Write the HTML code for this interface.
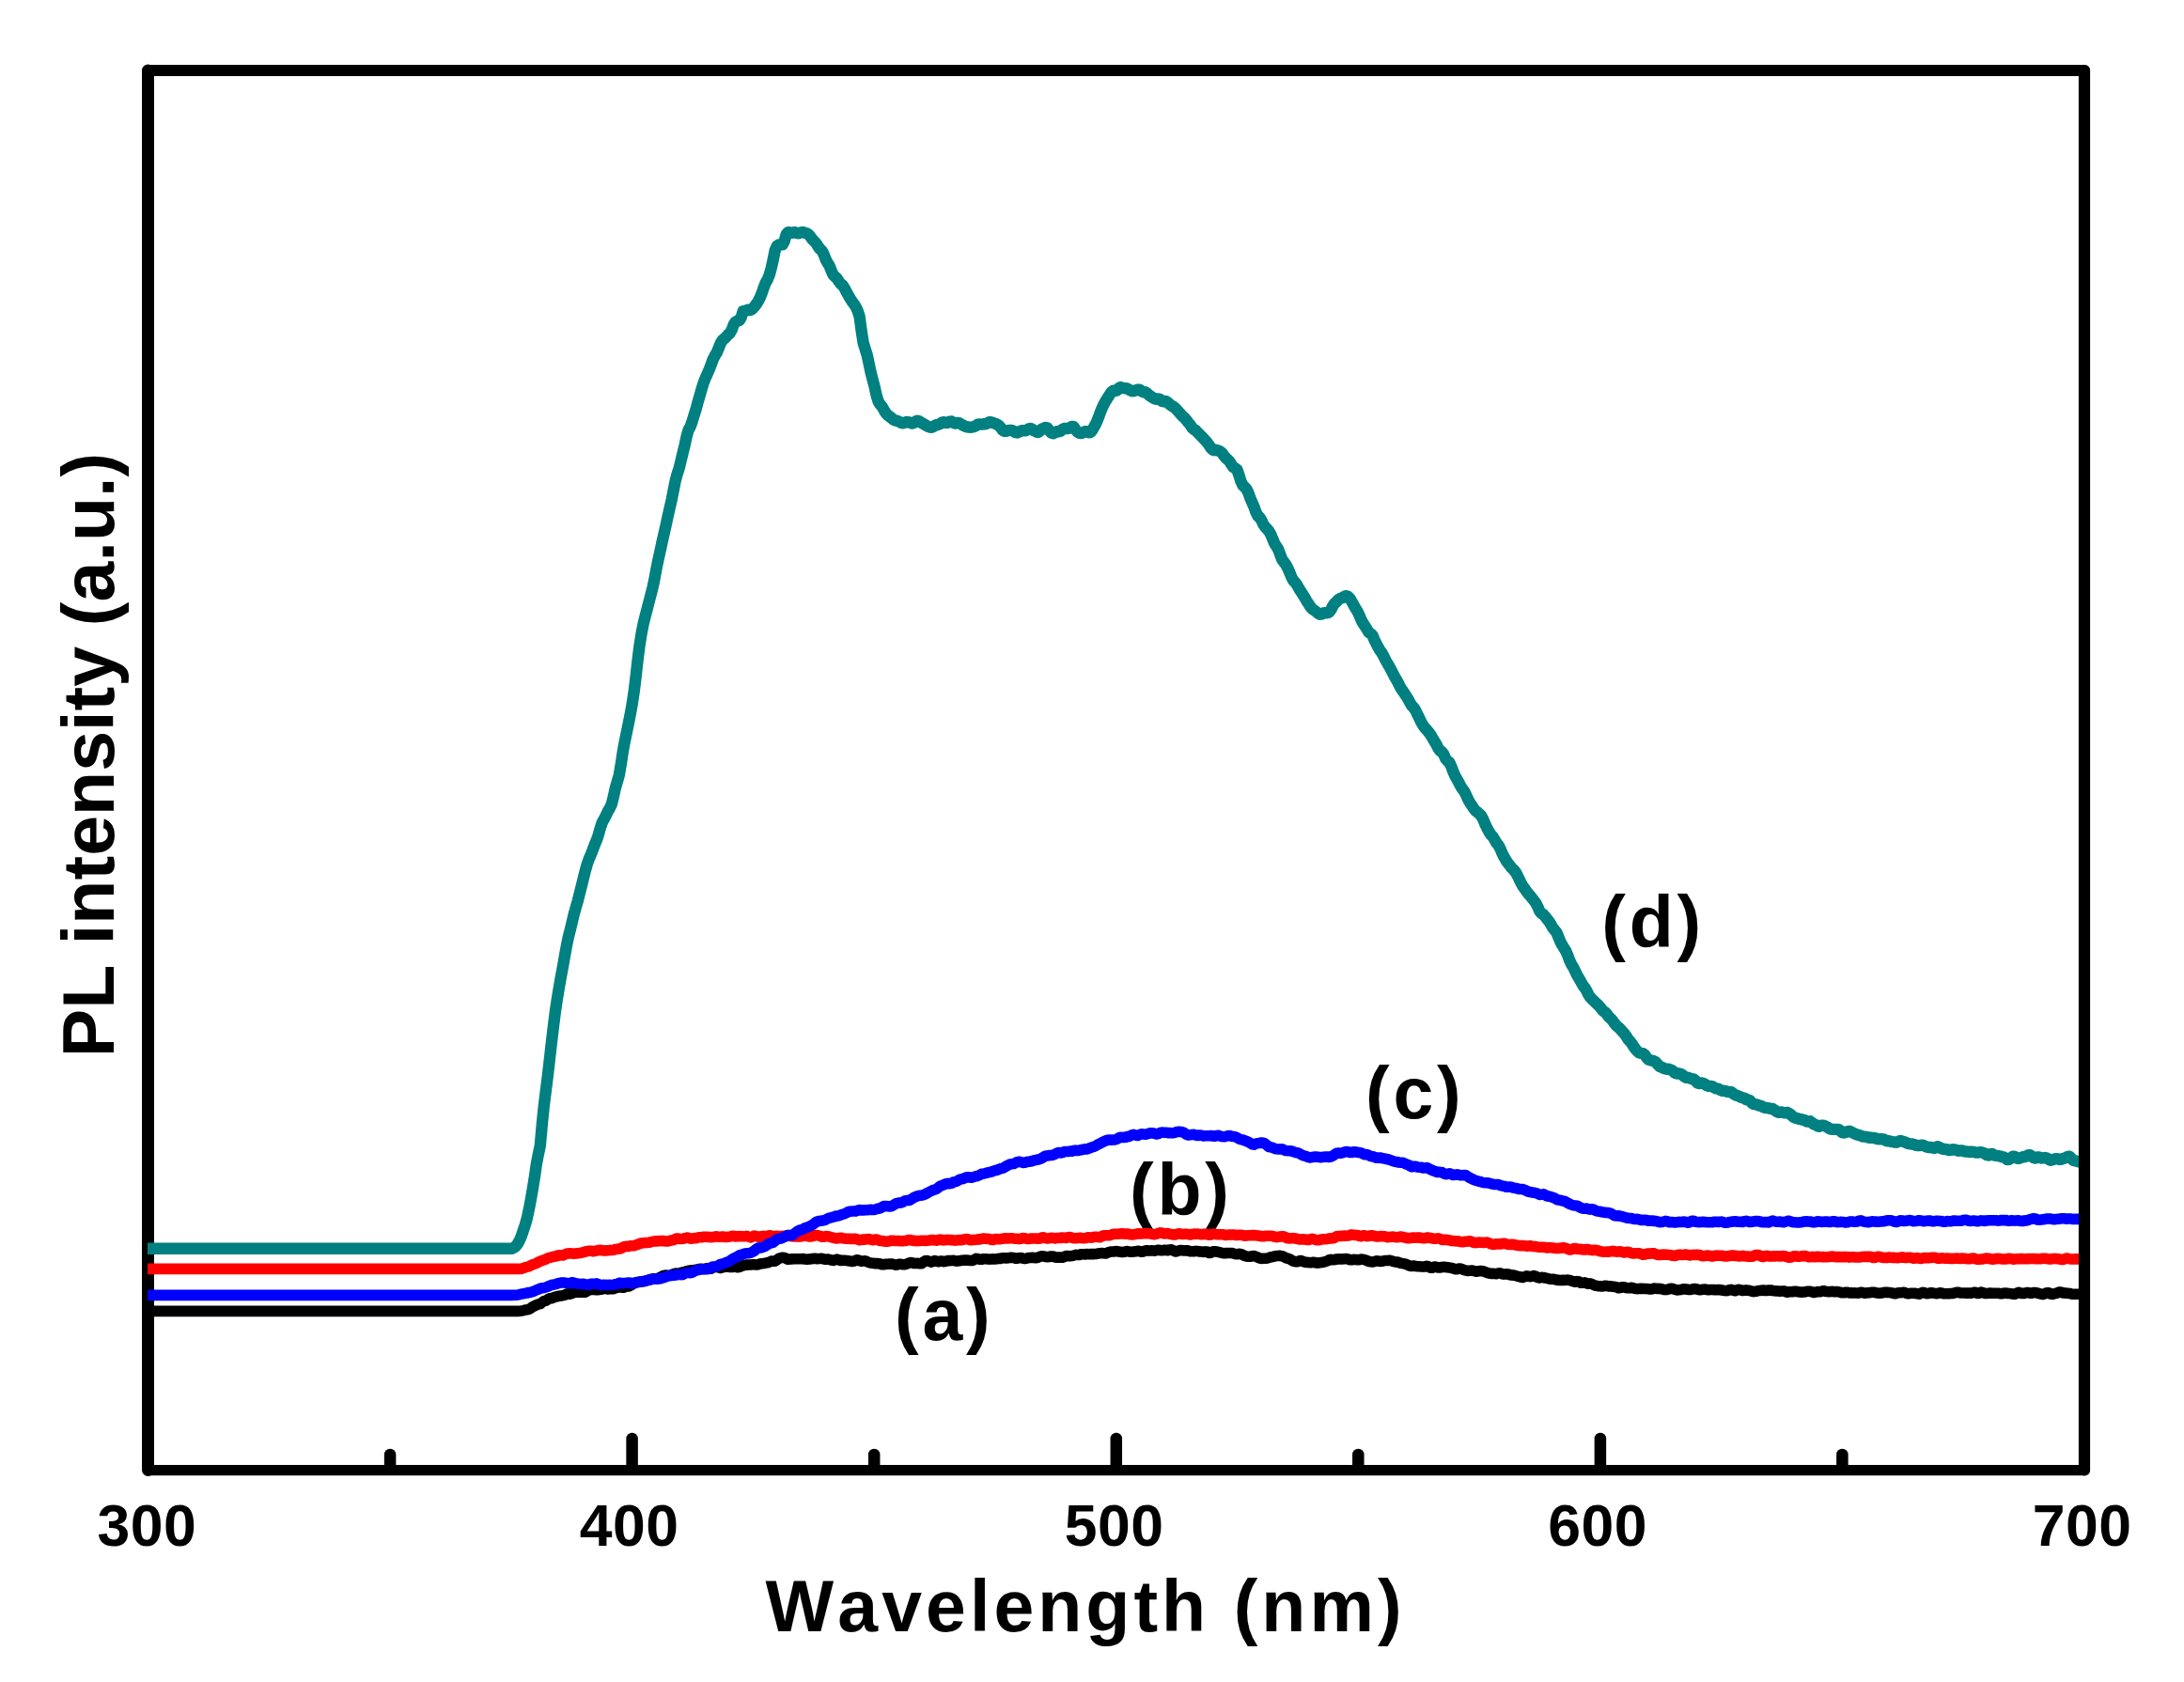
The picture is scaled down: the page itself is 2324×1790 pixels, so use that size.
<!DOCTYPE html>
<html lang="en">
<head>
<meta charset="utf-8">
<title>PL intensity vs Wavelength</title>
<style>
html,body{margin:0;padding:0;background:#fff;}
body{width:2324px;height:1790px;overflow:hidden;}
svg{display:block;}
text{font-family:"Liberation Sans",sans-serif;font-weight:bold;fill:#000;font-kerning:none;}
.tl{font-size:62.5px;letter-spacing:0.5px;}
.big{font-size:77px;}
</style>
</head>
<body>
<svg width="2324" height="1790" viewBox="0 0 2324 1790">
<rect x="0" y="0" width="2324" height="1790" fill="#fff"/>
<!-- frame -->
<g stroke="#000" stroke-linecap="round" fill="none">
<line x1="157.5" y1="75" x2="157.5" y2="1564.5" stroke-width="13"/>
<line x1="157.5" y1="75" x2="2218" y2="75" stroke-width="12.2"/>
<line x1="2218" y1="75" x2="2218" y2="1564.5" stroke-width="12.2"/>
<line x1="157.5" y1="1564.6" x2="2218" y2="1564.6" stroke-width="11.4"/>
</g>
<!-- ticks -->
<g stroke="#000" stroke-width="12.5" stroke-linecap="round">
<line x1="415.1" y1="1562" x2="415.1" y2="1548"/>
<line x1="672.6" y1="1562" x2="672.6" y2="1531"/>
<line x1="930.2" y1="1562" x2="930.2" y2="1548"/>
<line x1="1187.8" y1="1562" x2="1187.8" y2="1531"/>
<line x1="1445.3" y1="1562" x2="1445.3" y2="1548"/>
<line x1="1702.9" y1="1562" x2="1702.9" y2="1531"/>
<line x1="1960.4" y1="1562" x2="1960.4" y2="1548"/>
</g>
<!-- curve labels -->
<g class="big" letter-spacing="3.8">
<text x="952" y="1426.4">(a)</text>
<text x="1202" y="1293">(b)</text>
<text x="1453" y="1189.6">(c)</text>
<text x="1704.3" y="1008.4">(d)</text>
</g>
<!-- curves -->
<clipPath id="plotclip"><rect x="157" y="60" width="2055" height="1520"/></clipPath>
<g fill="none" stroke-width="11.6" stroke-linejoin="round" stroke-linecap="butt" clip-path="url(#plotclip)">
<polyline stroke="#000000" points="152.0,1395.4 157.0,1395.4 159.0,1395.4 161.0,1395.4 163.0,1395.4 165.0,1395.4 167.0,1395.4 169.0,1395.4 171.0,1395.4 173.0,1395.4 175.0,1395.4 177.0,1395.4 179.0,1395.4 181.0,1395.4 183.0,1395.4 185.0,1395.4 187.0,1395.4 189.0,1395.4 191.0,1395.4 193.0,1395.4 195.0,1395.4 197.0,1395.4 199.0,1395.4 201.0,1395.4 203.0,1395.4 205.0,1395.4 207.0,1395.4 209.0,1395.4 211.0,1395.4 213.0,1395.4 215.0,1395.4 217.0,1395.4 219.0,1395.4 221.0,1395.4 223.0,1395.4 225.0,1395.4 227.0,1395.4 229.0,1395.4 231.0,1395.4 233.0,1395.4 235.0,1395.4 237.0,1395.4 239.0,1395.4 241.0,1395.4 243.0,1395.4 245.0,1395.4 247.0,1395.4 249.0,1395.4 251.0,1395.4 253.0,1395.4 255.0,1395.4 257.0,1395.4 259.0,1395.4 260.9,1395.4 262.9,1395.4 264.9,1395.4 266.9,1395.4 268.9,1395.4 270.9,1395.4 272.9,1395.4 274.9,1395.4 276.9,1395.4 278.9,1395.4 280.9,1395.4 282.9,1395.4 284.9,1395.4 286.9,1395.4 288.9,1395.4 290.9,1395.4 292.9,1395.4 294.9,1395.4 296.9,1395.4 298.9,1395.4 300.9,1395.4 302.9,1395.4 304.9,1395.4 306.9,1395.4 308.9,1395.4 310.9,1395.4 312.9,1395.4 314.9,1395.4 316.9,1395.4 318.9,1395.4 320.9,1395.4 322.9,1395.4 324.9,1395.4 326.9,1395.4 328.9,1395.4 330.9,1395.4 332.9,1395.4 334.9,1395.4 336.9,1395.4 338.9,1395.4 340.9,1395.4 342.9,1395.4 344.9,1395.4 346.9,1395.4 348.9,1395.4 350.9,1395.4 352.9,1395.4 354.9,1395.4 356.9,1395.4 358.9,1395.4 360.9,1395.4 362.9,1395.4 364.9,1395.4 366.9,1395.4 368.9,1395.4 370.9,1395.4 372.9,1395.4 374.9,1395.4 376.9,1395.4 378.9,1395.4 380.9,1395.4 382.9,1395.4 384.9,1395.4 386.9,1395.4 388.9,1395.4 390.9,1395.4 392.9,1395.4 394.9,1395.4 396.9,1395.4 398.9,1395.4 400.9,1395.4 402.9,1395.4 404.9,1395.4 406.9,1395.4 408.9,1395.4 410.9,1395.4 412.9,1395.4 414.9,1395.4 416.9,1395.4 418.9,1395.4 420.9,1395.4 422.9,1395.4 424.9,1395.4 426.9,1395.4 428.9,1395.4 430.9,1395.4 432.9,1395.4 434.9,1395.4 436.9,1395.4 438.9,1395.4 440.9,1395.4 442.9,1395.4 444.9,1395.4 446.9,1395.4 448.9,1395.4 450.9,1395.4 452.9,1395.4 454.9,1395.4 456.9,1395.4 458.9,1395.4 460.9,1395.4 462.9,1395.4 464.9,1395.4 466.8,1395.4 468.8,1395.4 470.8,1395.4 472.8,1395.4 474.8,1395.4 476.8,1395.4 478.8,1395.4 480.8,1395.4 482.8,1395.4 484.8,1395.4 486.8,1395.4 488.8,1395.4 490.8,1395.4 492.8,1395.4 494.8,1395.4 496.8,1395.4 498.8,1395.4 500.8,1395.4 502.8,1395.4 504.8,1395.4 506.8,1395.4 508.8,1395.4 510.8,1395.4 512.8,1395.4 514.8,1395.4 516.8,1395.4 518.8,1395.4 520.8,1395.4 522.8,1395.4 524.8,1395.4 526.8,1395.4 528.8,1395.4 530.8,1395.4 532.8,1395.4 534.8,1395.4 536.8,1395.4 538.8,1395.4 540.8,1395.4 542.8,1395.4 544.8,1395.4 546.8,1395.4 548.8,1395.4 550.8,1395.4 552.8,1395.2 554.8,1395.0 556.8,1394.6 558.8,1394.1 560.8,1393.8 562.8,1393.4 564.8,1392.2 566.8,1390.7 568.8,1389.7 570.8,1388.7 572.8,1388.0 574.8,1387.6 576.8,1386.0 578.8,1384.7 580.8,1384.2 582.8,1383.0 584.8,1381.8 586.8,1381.7 588.8,1381.0 590.8,1380.1 592.8,1379.7 594.8,1379.3 596.8,1379.0 598.8,1378.7 600.8,1378.2 602.8,1377.2 604.8,1376.8 606.8,1377.2 608.8,1376.4 610.8,1375.5 612.8,1375.2 614.8,1375.1 616.8,1375.1 618.8,1375.0 620.8,1375.2 622.8,1375.1 624.8,1374.0 626.8,1372.9 628.8,1372.6 630.8,1372.4 632.8,1372.4 634.8,1372.7 636.8,1372.6 638.8,1372.2 640.8,1371.9 642.8,1371.3 644.8,1371.4 646.8,1372.0 648.8,1371.8 650.8,1371.7 652.8,1371.6 654.8,1370.7 656.8,1370.3 658.8,1369.8 660.8,1369.5 662.8,1370.3 664.8,1369.8 666.8,1368.9 668.8,1369.0 670.8,1368.2 672.7,1366.9 674.7,1365.9 676.7,1365.0 678.7,1364.4 680.7,1364.2 682.7,1363.8 684.7,1363.5 686.7,1363.3 688.7,1362.7 690.7,1362.0 692.7,1361.3 694.7,1360.7 696.7,1360.8 698.7,1360.9 700.7,1360.3 702.7,1359.3 704.7,1358.1 706.7,1357.2 708.7,1357.1 710.7,1357.4 712.7,1357.2 714.7,1356.7 716.7,1355.8 718.7,1355.1 720.7,1355.2 722.7,1355.0 724.7,1354.5 726.7,1353.9 728.7,1353.5 730.7,1352.8 732.7,1352.2 734.7,1352.0 736.7,1351.8 738.7,1351.6 740.7,1351.3 742.7,1350.8 744.7,1350.4 746.7,1350.4 748.7,1350.5 750.7,1350.2 752.7,1349.7 754.7,1350.1 756.7,1350.2 758.7,1348.9 760.7,1348.2 762.7,1348.4 764.7,1348.9 766.7,1349.4 768.7,1348.8 770.7,1348.3 772.7,1348.3 774.7,1348.3 776.7,1348.4 778.7,1348.5 780.7,1348.2 782.7,1348.2 784.7,1348.8 786.7,1348.4 788.7,1347.5 790.7,1346.9 792.7,1346.3 794.7,1346.1 796.7,1346.0 798.7,1346.0 800.7,1345.8 802.7,1345.7 804.7,1345.9 806.7,1345.7 808.7,1345.1 810.7,1344.8 812.7,1344.5 814.7,1344.1 816.7,1343.8 818.7,1343.1 820.7,1342.1 822.7,1342.0 824.7,1342.1 826.7,1340.8 828.7,1339.4 830.7,1338.6 832.7,1338.2 834.7,1338.4 836.7,1339.5 838.7,1340.3 840.7,1340.0 842.7,1339.9 844.7,1339.8 846.7,1339.7 848.7,1339.7 850.7,1339.8 852.7,1339.7 854.7,1339.5 856.7,1340.1 858.7,1340.3 860.7,1340.0 862.7,1339.9 864.7,1339.5 866.7,1339.3 868.7,1339.6 870.7,1339.6 872.7,1339.4 874.7,1339.4 876.6,1339.9 878.6,1340.2 880.6,1340.0 882.6,1340.4 884.6,1341.0 886.6,1341.4 888.6,1340.8 890.6,1340.1 892.6,1340.9 894.6,1341.5 896.6,1341.2 898.6,1341.2 900.6,1341.4 902.6,1341.7 904.6,1342.1 906.6,1342.4 908.6,1342.3 910.6,1341.1 912.6,1340.7 914.6,1341.7 916.6,1342.3 918.6,1341.9 920.6,1341.7 922.6,1342.6 924.6,1343.6 926.6,1344.0 928.6,1344.3 930.6,1344.6 932.6,1344.6 934.6,1344.6 936.6,1345.0 938.6,1345.8 940.6,1345.7 942.6,1345.3 944.6,1345.2 946.6,1345.1 948.6,1345.0 950.6,1345.4 952.6,1346.1 954.6,1346.0 956.6,1345.3 958.6,1345.2 960.6,1345.8 962.6,1345.8 964.6,1345.2 966.6,1344.4 968.6,1343.6 970.6,1343.7 972.6,1344.5 974.6,1344.5 976.6,1344.4 978.6,1344.8 980.6,1344.7 982.6,1343.1 984.6,1341.7 986.6,1341.5 988.6,1342.4 990.6,1343.1 992.6,1342.5 994.6,1341.6 996.6,1342.2 998.6,1342.8 1000.6,1342.1 1002.6,1342.0 1004.6,1342.6 1006.6,1342.2 1008.6,1341.6 1010.6,1341.6 1012.6,1341.5 1014.6,1341.4 1016.6,1341.9 1018.6,1342.1 1020.6,1341.7 1022.6,1341.4 1024.6,1341.3 1026.6,1341.1 1028.6,1341.1 1030.6,1341.3 1032.6,1341.5 1034.6,1341.5 1036.6,1340.6 1038.6,1339.4 1040.6,1339.6 1042.6,1340.3 1044.6,1340.2 1046.6,1339.8 1048.6,1339.8 1050.6,1339.9 1052.6,1340.1 1054.6,1340.0 1056.6,1339.9 1058.6,1340.0 1060.6,1339.8 1062.6,1339.4 1064.6,1339.4 1066.6,1338.8 1068.6,1338.7 1070.6,1339.0 1072.6,1338.7 1074.6,1338.4 1076.6,1338.4 1078.6,1338.5 1080.6,1339.1 1082.5,1339.2 1084.5,1338.7 1086.5,1338.6 1088.5,1339.1 1090.5,1339.5 1092.5,1339.1 1094.5,1338.5 1096.5,1338.5 1098.5,1338.3 1100.5,1338.5 1102.5,1338.8 1104.5,1338.2 1106.5,1337.3 1108.5,1336.7 1110.5,1336.9 1112.5,1337.5 1114.5,1337.6 1116.5,1337.5 1118.5,1337.0 1120.5,1337.0 1122.5,1337.8 1124.5,1338.2 1126.5,1338.0 1128.5,1338.1 1130.5,1338.2 1132.5,1337.5 1134.5,1336.6 1136.5,1336.6 1138.5,1336.7 1140.5,1336.5 1142.5,1336.1 1144.5,1335.4 1146.5,1335.5 1148.5,1335.5 1150.5,1334.7 1152.5,1334.7 1154.5,1334.9 1156.5,1334.6 1158.5,1334.7 1160.5,1334.6 1162.5,1334.5 1164.5,1334.6 1166.5,1334.4 1168.5,1334.1 1170.5,1333.8 1172.5,1333.6 1174.5,1333.8 1176.5,1334.0 1178.5,1333.2 1180.5,1332.4 1182.5,1332.0 1184.5,1332.0 1186.5,1331.7 1188.5,1331.6 1190.5,1332.0 1192.5,1332.2 1194.5,1332.5 1196.5,1332.3 1198.5,1331.6 1200.5,1331.7 1202.5,1332.3 1204.5,1332.2 1206.5,1332.0 1208.5,1331.8 1210.5,1331.3 1212.5,1331.5 1214.5,1332.2 1216.5,1331.9 1218.5,1331.0 1220.5,1330.8 1222.5,1331.1 1224.5,1330.9 1226.5,1330.9 1228.5,1331.1 1230.5,1330.6 1232.5,1330.2 1234.5,1330.7 1236.5,1330.8 1238.5,1330.3 1240.5,1330.4 1242.5,1330.7 1244.5,1330.0 1246.5,1329.8 1248.5,1330.9 1250.5,1331.9 1252.5,1331.7 1254.5,1330.9 1256.5,1330.5 1258.5,1330.7 1260.5,1331.0 1262.5,1330.8 1264.5,1331.1 1266.5,1331.7 1268.5,1331.8 1270.5,1331.8 1272.5,1331.4 1274.5,1331.6 1276.5,1331.9 1278.5,1332.0 1280.5,1332.4 1282.5,1331.9 1284.5,1332.1 1286.5,1333.4 1288.4,1333.2 1290.4,1332.0 1292.4,1331.7 1294.4,1332.0 1296.4,1332.4 1298.4,1332.9 1300.4,1333.4 1302.4,1333.8 1304.4,1333.6 1306.4,1333.5 1308.4,1333.5 1310.4,1333.5 1312.4,1333.9 1314.4,1334.6 1316.4,1334.8 1318.4,1334.4 1320.4,1334.5 1322.4,1335.5 1324.4,1336.4 1326.4,1337.0 1328.4,1337.3 1330.4,1337.2 1332.4,1336.8 1334.4,1336.6 1336.4,1337.2 1338.4,1338.1 1340.4,1339.0 1342.4,1339.4 1344.4,1339.3 1346.4,1339.3 1348.4,1339.1 1350.4,1338.4 1352.4,1337.8 1354.4,1337.5 1356.4,1336.9 1358.4,1336.6 1360.4,1336.4 1362.4,1336.4 1364.4,1336.7 1366.4,1337.6 1368.4,1338.8 1370.4,1339.2 1372.4,1339.9 1374.4,1341.2 1376.4,1342.1 1378.4,1342.6 1380.4,1342.7 1382.4,1342.0 1384.4,1341.5 1386.4,1342.4 1388.4,1343.3 1390.4,1343.4 1392.4,1343.5 1394.4,1343.7 1396.4,1343.4 1398.4,1343.3 1400.4,1343.9 1402.4,1344.1 1404.4,1343.8 1406.4,1343.6 1408.4,1343.1 1410.4,1342.6 1412.4,1341.9 1414.4,1340.8 1416.4,1340.4 1418.4,1340.8 1420.4,1340.5 1422.4,1340.0 1424.4,1339.9 1426.4,1340.0 1428.4,1339.9 1430.4,1339.8 1432.4,1339.6 1434.4,1339.9 1436.4,1340.8 1438.4,1340.8 1440.4,1340.4 1442.4,1340.5 1444.4,1340.6 1446.4,1340.6 1448.4,1340.1 1450.4,1340.2 1452.4,1340.8 1454.4,1341.5 1456.4,1342.3 1458.4,1342.7 1460.4,1342.9 1462.4,1342.6 1464.4,1341.9 1466.4,1342.0 1468.4,1342.4 1470.4,1342.3 1472.4,1341.8 1474.4,1341.6 1476.4,1341.4 1478.4,1341.2 1480.4,1341.6 1482.4,1342.4 1484.4,1342.9 1486.4,1343.0 1488.4,1343.5 1490.4,1344.2 1492.4,1344.6 1494.3,1344.9 1496.3,1345.4 1498.3,1346.4 1500.3,1347.3 1502.3,1347.4 1504.3,1347.1 1506.3,1347.4 1508.3,1347.7 1510.3,1347.7 1512.3,1347.9 1514.3,1348.1 1516.3,1347.9 1518.3,1347.3 1520.3,1347.8 1522.3,1349.3 1524.3,1349.2 1526.3,1348.1 1528.3,1348.3 1530.3,1348.9 1532.3,1348.9 1534.3,1348.6 1536.3,1348.3 1538.3,1348.5 1540.3,1348.8 1542.3,1349.1 1544.3,1349.3 1546.3,1349.8 1548.3,1350.6 1550.3,1350.7 1552.3,1350.1 1554.3,1350.1 1556.3,1350.9 1558.3,1351.7 1560.3,1352.2 1562.3,1352.4 1564.3,1352.3 1566.3,1352.1 1568.3,1352.4 1570.3,1353.2 1572.3,1353.0 1574.3,1352.6 1576.3,1352.6 1578.3,1352.7 1580.3,1353.6 1582.3,1354.4 1584.3,1355.0 1586.3,1355.4 1588.3,1355.3 1590.3,1355.5 1592.3,1355.6 1594.3,1355.0 1596.3,1354.9 1598.3,1355.7 1600.3,1356.1 1602.3,1355.9 1604.3,1356.0 1606.3,1356.5 1608.3,1357.0 1610.3,1357.1 1612.3,1357.4 1614.3,1358.1 1616.3,1358.5 1618.3,1359.1 1620.3,1359.5 1622.3,1358.6 1624.3,1357.9 1626.3,1358.2 1628.3,1358.6 1630.3,1358.2 1632.3,1357.6 1634.3,1358.3 1636.3,1359.6 1638.3,1359.9 1640.3,1359.4 1642.3,1359.5 1644.3,1360.0 1646.3,1360.4 1648.3,1360.9 1650.3,1361.2 1652.3,1361.2 1654.3,1361.5 1656.3,1362.1 1658.3,1362.4 1660.3,1362.5 1662.3,1362.4 1664.3,1362.4 1666.3,1362.2 1668.3,1362.1 1670.3,1362.5 1672.3,1363.1 1674.3,1363.8 1676.3,1364.2 1678.3,1363.6 1680.3,1364.0 1682.3,1365.3 1684.3,1365.3 1686.3,1364.9 1688.3,1365.8 1690.3,1366.2 1692.3,1365.9 1694.3,1366.6 1696.3,1367.6 1698.2,1368.3 1700.2,1368.6 1702.2,1368.7 1704.2,1368.9 1706.2,1368.7 1708.2,1368.3 1710.2,1368.6 1712.2,1368.9 1714.2,1368.9 1716.2,1369.3 1718.2,1369.4 1720.2,1369.7 1722.2,1370.6 1724.2,1370.5 1726.2,1369.7 1728.2,1369.8 1730.2,1370.4 1732.2,1370.7 1734.2,1370.7 1736.2,1370.3 1738.2,1370.9 1740.2,1371.4 1742.2,1371.6 1744.2,1371.5 1746.2,1371.2 1748.2,1371.4 1750.2,1371.5 1752.2,1371.5 1754.2,1371.7 1756.2,1372.0 1758.2,1371.7 1760.2,1371.1 1762.2,1371.2 1764.2,1371.5 1766.2,1371.4 1768.2,1371.7 1770.2,1372.4 1772.2,1372.6 1774.2,1372.4 1776.2,1371.7 1778.2,1371.3 1780.2,1371.6 1782.2,1372.2 1784.2,1372.9 1786.2,1372.8 1788.2,1372.5 1790.2,1372.1 1792.2,1371.8 1794.2,1372.0 1796.2,1372.4 1798.2,1372.5 1800.2,1372.1 1802.2,1371.6 1804.2,1371.5 1806.2,1372.1 1808.2,1372.6 1810.2,1372.6 1812.2,1372.3 1814.2,1372.1 1816.2,1372.4 1818.2,1372.7 1820.2,1372.5 1822.2,1372.5 1824.2,1372.6 1826.2,1372.8 1828.2,1372.6 1830.2,1372.6 1832.2,1373.0 1834.2,1373.4 1836.2,1373.6 1838.2,1373.5 1840.2,1372.8 1842.2,1372.4 1844.2,1373.2 1846.2,1373.8 1848.2,1372.8 1850.2,1372.2 1852.2,1372.8 1854.2,1373.5 1856.2,1373.3 1858.2,1372.9 1860.2,1373.2 1862.2,1373.7 1864.2,1374.2 1866.2,1374.6 1868.2,1374.3 1870.2,1373.8 1872.2,1373.6 1874.2,1373.2 1876.2,1373.0 1878.2,1373.5 1880.2,1373.5 1882.2,1373.0 1884.2,1373.0 1886.2,1373.5 1888.2,1373.7 1890.2,1373.9 1892.2,1374.0 1894.2,1374.3 1896.2,1374.1 1898.2,1373.9 1900.2,1374.8 1902.2,1375.2 1904.1,1374.7 1906.1,1374.7 1908.1,1374.6 1910.1,1374.2 1912.1,1374.5 1914.1,1374.9 1916.1,1375.1 1918.1,1375.1 1920.1,1374.9 1922.1,1374.6 1924.1,1374.3 1926.1,1374.3 1928.1,1374.9 1930.1,1375.5 1932.1,1375.1 1934.1,1374.6 1936.1,1374.8 1938.1,1374.3 1940.1,1373.7 1942.1,1374.2 1944.1,1374.6 1946.1,1374.8 1948.1,1374.5 1950.1,1374.4 1952.1,1374.7 1954.1,1374.5 1956.1,1374.7 1958.1,1375.3 1960.1,1375.7 1962.1,1375.7 1964.1,1375.3 1966.1,1375.4 1968.1,1375.9 1970.1,1375.9 1972.1,1376.0 1974.1,1375.9 1976.1,1376.1 1978.1,1376.0 1980.1,1375.3 1982.1,1375.6 1984.1,1376.1 1986.1,1376.0 1988.1,1375.7 1990.1,1375.6 1992.1,1375.3 1994.1,1375.3 1996.1,1375.7 1998.1,1376.0 2000.1,1376.3 2002.1,1376.1 2004.1,1375.5 2006.1,1375.4 2008.1,1375.4 2010.1,1375.5 2012.1,1375.7 2014.1,1376.1 2016.1,1376.7 2018.1,1376.4 2020.1,1375.7 2022.1,1375.7 2024.1,1375.5 2026.1,1375.4 2028.1,1376.2 2030.1,1376.8 2032.1,1376.5 2034.1,1376.2 2036.1,1376.3 2038.1,1376.4 2040.1,1376.8 2042.1,1377.1 2044.1,1376.2 2046.1,1375.4 2048.1,1375.8 2050.1,1376.6 2052.1,1376.5 2054.1,1375.9 2056.1,1375.9 2058.1,1376.3 2060.1,1376.6 2062.1,1376.5 2064.1,1375.9 2066.1,1376.0 2068.1,1376.6 2070.1,1376.7 2072.1,1376.7 2074.1,1376.8 2076.1,1376.6 2078.1,1376.4 2080.1,1375.9 2082.1,1375.3 2084.1,1375.4 2086.1,1376.0 2088.1,1376.0 2090.1,1376.0 2092.1,1376.1 2094.1,1376.0 2096.1,1376.1 2098.1,1376.1 2100.1,1375.4 2102.1,1375.4 2104.1,1376.5 2106.1,1376.2 2108.1,1375.1 2110.0,1375.6 2112.0,1376.4 2114.0,1376.5 2116.0,1376.3 2118.0,1376.1 2120.0,1376.2 2122.0,1376.3 2124.0,1376.2 2126.0,1376.3 2128.0,1376.6 2130.0,1376.7 2132.0,1376.3 2134.0,1376.1 2136.0,1376.4 2138.0,1376.5 2140.0,1376.7 2142.0,1377.1 2144.0,1377.1 2146.0,1376.2 2148.0,1375.4 2150.0,1376.0 2152.0,1376.5 2154.0,1376.4 2156.0,1375.8 2158.0,1375.5 2160.0,1376.1 2162.0,1376.1 2164.0,1375.5 2166.0,1375.6 2168.0,1376.0 2170.0,1376.7 2172.0,1377.2 2174.0,1377.4 2176.0,1376.8 2178.0,1375.7 2180.0,1375.8 2182.0,1377.0 2184.0,1377.4 2186.0,1376.8 2188.0,1376.4 2190.0,1375.5 2192.0,1375.0 2194.0,1375.5 2196.0,1376.0 2198.0,1376.1 2200.0,1376.2 2202.0,1376.4 2204.0,1377.0 2206.0,1377.3 2208.0,1377.3 2210.0,1377.3 2212.0,1377.3 2217.0,1377.3"/>
<polyline stroke="#ff0000" points="152.0,1350.4 157.0,1350.4 159.0,1350.4 161.0,1350.4 163.0,1350.4 165.0,1350.4 167.0,1350.4 169.0,1350.4 171.0,1350.4 173.0,1350.4 175.0,1350.4 177.0,1350.4 179.0,1350.4 181.0,1350.4 183.0,1350.4 185.0,1350.4 187.0,1350.4 189.0,1350.4 191.0,1350.4 193.0,1350.4 195.0,1350.4 197.0,1350.4 199.0,1350.4 201.0,1350.4 203.0,1350.4 205.0,1350.4 207.0,1350.4 209.0,1350.4 211.0,1350.4 213.0,1350.4 215.0,1350.4 217.0,1350.4 219.0,1350.4 221.0,1350.4 223.0,1350.4 225.0,1350.4 227.0,1350.4 229.0,1350.4 231.0,1350.4 233.0,1350.4 235.0,1350.4 237.0,1350.4 239.0,1350.4 241.0,1350.4 243.0,1350.4 245.0,1350.4 247.0,1350.4 249.0,1350.4 251.0,1350.4 253.0,1350.4 255.0,1350.4 257.0,1350.4 259.0,1350.4 260.9,1350.4 262.9,1350.4 264.9,1350.4 266.9,1350.4 268.9,1350.4 270.9,1350.4 272.9,1350.4 274.9,1350.4 276.9,1350.4 278.9,1350.4 280.9,1350.4 282.9,1350.4 284.9,1350.4 286.9,1350.4 288.9,1350.4 290.9,1350.4 292.9,1350.4 294.9,1350.4 296.9,1350.4 298.9,1350.4 300.9,1350.4 302.9,1350.4 304.9,1350.4 306.9,1350.4 308.9,1350.4 310.9,1350.4 312.9,1350.4 314.9,1350.4 316.9,1350.4 318.9,1350.4 320.9,1350.4 322.9,1350.4 324.9,1350.4 326.9,1350.4 328.9,1350.4 330.9,1350.4 332.9,1350.4 334.9,1350.4 336.9,1350.4 338.9,1350.4 340.9,1350.4 342.9,1350.4 344.9,1350.4 346.9,1350.4 348.9,1350.4 350.9,1350.4 352.9,1350.4 354.9,1350.4 356.9,1350.4 358.9,1350.4 360.9,1350.4 362.9,1350.4 364.9,1350.4 366.9,1350.4 368.9,1350.4 370.9,1350.4 372.9,1350.4 374.9,1350.4 376.9,1350.4 378.9,1350.4 380.9,1350.4 382.9,1350.4 384.9,1350.4 386.9,1350.4 388.9,1350.4 390.9,1350.4 392.9,1350.4 394.9,1350.4 396.9,1350.4 398.9,1350.4 400.9,1350.4 402.9,1350.4 404.9,1350.4 406.9,1350.4 408.9,1350.4 410.9,1350.4 412.9,1350.4 414.9,1350.4 416.9,1350.4 418.9,1350.4 420.9,1350.4 422.9,1350.4 424.9,1350.4 426.9,1350.4 428.9,1350.4 430.9,1350.4 432.9,1350.4 434.9,1350.4 436.9,1350.4 438.9,1350.4 440.9,1350.4 442.9,1350.4 444.9,1350.4 446.9,1350.4 448.9,1350.4 450.9,1350.4 452.9,1350.4 454.9,1350.4 456.9,1350.4 458.9,1350.4 460.9,1350.4 462.9,1350.4 464.9,1350.4 466.8,1350.4 468.8,1350.4 470.8,1350.4 472.8,1350.4 474.8,1350.4 476.8,1350.4 478.8,1350.4 480.8,1350.4 482.8,1350.4 484.8,1350.4 486.8,1350.4 488.8,1350.4 490.8,1350.4 492.8,1350.4 494.8,1350.4 496.8,1350.4 498.8,1350.4 500.8,1350.4 502.8,1350.4 504.8,1350.4 506.8,1350.4 508.8,1350.4 510.8,1350.4 512.8,1350.4 514.8,1350.4 516.8,1350.4 518.8,1350.4 520.8,1350.4 522.8,1350.4 524.8,1350.4 526.8,1350.4 528.8,1350.4 530.8,1350.4 532.8,1350.4 534.8,1350.4 536.8,1350.4 538.8,1350.4 540.8,1350.4 542.8,1350.4 544.8,1350.4 546.8,1350.4 548.8,1350.4 550.8,1350.4 552.8,1350.4 554.8,1350.2 556.8,1349.5 558.8,1348.9 560.8,1348.3 562.8,1347.7 564.8,1346.8 566.8,1345.8 568.8,1345.1 570.8,1344.3 572.8,1343.3 574.8,1342.3 576.8,1341.5 578.8,1340.9 580.8,1340.1 582.8,1339.0 584.8,1338.4 586.8,1338.0 588.8,1337.4 590.8,1337.0 592.8,1336.5 594.8,1335.7 596.8,1335.7 598.8,1336.0 600.8,1335.2 602.8,1334.3 604.8,1333.9 606.8,1333.8 608.8,1334.0 610.8,1334.1 612.8,1334.0 614.8,1333.7 616.8,1333.4 618.8,1333.2 620.8,1332.7 622.8,1332.0 624.8,1331.6 626.8,1331.2 628.8,1331.2 630.8,1331.7 632.8,1331.4 634.8,1331.0 636.8,1330.6 638.8,1330.3 640.8,1330.7 642.8,1330.9 644.8,1330.9 646.8,1330.8 648.8,1330.5 650.8,1330.4 652.8,1330.2 654.8,1329.6 656.8,1329.2 658.8,1329.0 660.8,1328.5 662.8,1327.5 664.8,1326.5 666.8,1326.4 668.8,1326.4 670.8,1325.8 672.7,1325.7 674.7,1325.6 676.7,1325.0 678.7,1324.3 680.7,1323.5 682.7,1323.0 684.7,1322.8 686.7,1322.6 688.7,1322.4 690.7,1322.2 692.7,1321.8 694.7,1321.2 696.7,1320.9 698.7,1320.9 700.7,1320.8 702.7,1320.6 704.7,1320.5 706.7,1320.6 708.7,1321.0 710.7,1321.0 712.7,1320.4 714.7,1319.9 716.7,1319.6 718.7,1318.5 720.7,1318.0 722.7,1318.4 724.7,1318.5 726.7,1318.2 728.7,1317.8 730.7,1317.1 732.7,1317.3 734.7,1318.1 736.7,1318.0 738.7,1317.6 740.7,1317.6 742.7,1317.0 744.7,1316.7 746.7,1316.7 748.7,1316.3 750.7,1316.3 752.7,1316.4 754.7,1316.5 756.7,1316.8 758.7,1316.6 760.7,1316.0 762.7,1315.9 764.7,1316.2 766.7,1316.2 768.7,1316.0 770.7,1316.4 772.7,1316.5 774.7,1316.3 776.7,1316.1 778.7,1315.4 780.7,1315.4 782.7,1315.9 784.7,1315.7 786.7,1315.5 788.7,1315.7 790.7,1315.8 792.7,1315.7 794.7,1315.4 796.7,1316.1 798.7,1316.9 800.7,1316.0 802.7,1315.1 804.7,1315.6 806.7,1316.1 808.7,1316.1 810.7,1315.6 812.7,1315.4 814.7,1315.8 816.7,1315.4 818.7,1314.8 820.7,1315.1 822.7,1315.5 824.7,1315.5 826.7,1315.4 828.7,1315.5 830.7,1315.5 832.7,1315.4 834.7,1315.2 836.7,1315.1 838.7,1315.3 840.7,1315.5 842.7,1315.8 844.7,1315.9 846.7,1315.8 848.7,1315.9 850.7,1316.1 852.7,1315.7 854.7,1315.3 856.7,1315.1 858.7,1315.4 860.7,1315.9 862.7,1315.9 864.7,1315.6 866.7,1314.8 868.7,1314.6 870.7,1314.8 872.7,1315.3 874.7,1316.3 876.6,1316.3 878.6,1315.6 880.6,1315.7 882.6,1316.2 884.6,1316.7 886.6,1317.1 888.6,1317.7 890.6,1318.0 892.6,1317.4 894.6,1317.2 896.6,1317.7 898.6,1318.1 900.6,1318.3 902.6,1318.3 904.6,1318.4 906.6,1318.4 908.6,1318.2 910.6,1318.3 912.6,1319.1 914.6,1319.8 916.6,1319.4 918.6,1319.0 920.6,1319.1 922.6,1318.8 924.6,1318.6 926.6,1319.2 928.6,1319.7 930.6,1319.3 932.6,1319.0 934.6,1319.8 936.6,1320.5 938.6,1320.6 940.6,1320.8 942.6,1321.3 944.6,1321.2 946.6,1320.7 948.6,1320.3 950.6,1320.3 952.6,1320.5 954.6,1320.5 956.6,1320.5 958.6,1320.8 960.6,1320.7 962.6,1320.4 964.6,1320.2 966.6,1319.6 968.6,1319.6 970.6,1320.1 972.6,1320.4 974.6,1320.5 976.6,1320.6 978.6,1320.4 980.6,1320.2 982.6,1320.2 984.6,1320.4 986.6,1320.3 988.6,1320.1 990.6,1319.8 992.6,1319.5 994.6,1319.9 996.6,1320.1 998.6,1319.5 1000.6,1319.1 1002.6,1319.6 1004.6,1319.9 1006.6,1319.5 1008.6,1319.4 1010.6,1319.6 1012.6,1319.6 1014.6,1319.9 1016.6,1320.1 1018.6,1319.7 1020.6,1319.6 1022.6,1319.7 1024.6,1319.3 1026.6,1318.8 1028.6,1318.6 1030.6,1319.0 1032.6,1319.7 1034.6,1319.6 1036.6,1319.4 1038.6,1319.2 1040.6,1318.9 1042.6,1318.9 1044.6,1318.4 1046.6,1318.0 1048.6,1318.2 1050.6,1318.3 1052.6,1318.5 1054.6,1319.2 1056.6,1319.5 1058.6,1318.8 1060.6,1318.5 1062.6,1318.7 1064.6,1318.6 1066.6,1318.3 1068.6,1317.9 1070.6,1317.9 1072.6,1318.0 1074.6,1317.8 1076.6,1317.7 1078.6,1318.0 1080.6,1318.2 1082.5,1318.3 1084.5,1318.6 1086.5,1318.2 1088.5,1317.5 1090.5,1317.7 1092.5,1318.4 1094.5,1318.5 1096.5,1318.1 1098.5,1318.0 1100.5,1318.0 1102.5,1318.0 1104.5,1318.2 1106.5,1318.0 1108.5,1317.0 1110.5,1316.8 1112.5,1317.6 1114.5,1318.0 1116.5,1317.8 1118.5,1317.2 1120.5,1317.4 1122.5,1317.9 1124.5,1317.6 1126.5,1317.4 1128.5,1317.4 1130.5,1317.1 1132.5,1317.2 1134.5,1317.4 1136.5,1316.8 1138.5,1316.6 1140.5,1317.1 1142.5,1317.7 1144.5,1317.8 1146.5,1317.6 1148.5,1317.4 1150.5,1317.4 1152.5,1317.7 1154.5,1317.8 1156.5,1317.2 1158.5,1316.7 1160.5,1317.1 1162.5,1316.9 1164.5,1316.3 1166.5,1316.2 1168.5,1316.4 1170.5,1316.7 1172.5,1315.8 1174.5,1314.8 1176.5,1314.7 1178.5,1314.7 1180.5,1314.8 1182.5,1314.1 1184.5,1313.3 1186.5,1313.2 1188.5,1313.2 1190.5,1313.1 1192.5,1312.9 1194.5,1312.8 1196.5,1313.1 1198.5,1313.0 1200.5,1313.1 1202.5,1313.8 1204.5,1314.0 1206.5,1313.7 1208.5,1313.4 1210.5,1312.9 1212.5,1312.9 1214.5,1313.0 1216.5,1312.8 1218.5,1312.6 1220.5,1312.6 1222.5,1312.7 1224.5,1312.9 1226.5,1313.5 1228.5,1313.8 1230.5,1313.2 1232.5,1312.5 1234.5,1311.9 1236.5,1312.1 1238.5,1312.9 1240.5,1312.7 1242.5,1312.6 1244.5,1313.2 1246.5,1313.6 1248.5,1313.9 1250.5,1314.0 1252.5,1313.3 1254.5,1312.7 1256.5,1313.2 1258.5,1313.4 1260.5,1313.2 1262.5,1313.2 1264.5,1313.6 1266.5,1314.0 1268.5,1313.5 1270.5,1313.1 1272.5,1313.2 1274.5,1313.1 1276.5,1313.6 1278.5,1313.8 1280.5,1313.4 1282.5,1313.3 1284.5,1313.7 1286.5,1314.3 1288.4,1314.0 1290.4,1313.2 1292.4,1313.1 1294.4,1313.6 1296.4,1313.7 1298.4,1313.7 1300.4,1313.8 1302.4,1314.1 1304.4,1314.4 1306.4,1314.3 1308.4,1314.1 1310.4,1314.0 1312.4,1314.0 1314.4,1314.4 1316.4,1314.4 1318.4,1314.2 1320.4,1314.2 1322.4,1314.7 1324.4,1315.2 1326.4,1314.9 1328.4,1314.7 1330.4,1314.7 1332.4,1314.5 1334.4,1314.6 1336.4,1314.8 1338.4,1315.0 1340.4,1315.3 1342.4,1315.7 1344.4,1315.7 1346.4,1315.4 1348.4,1315.3 1350.4,1315.3 1352.4,1315.3 1354.4,1315.5 1356.4,1316.2 1358.4,1316.6 1360.4,1316.3 1362.4,1316.0 1364.4,1315.7 1366.4,1316.0 1368.4,1317.0 1370.4,1317.8 1372.4,1318.0 1374.4,1317.7 1376.4,1317.6 1378.4,1318.0 1380.4,1318.4 1382.4,1318.9 1384.4,1319.0 1386.4,1318.9 1388.4,1319.0 1390.4,1319.4 1392.4,1319.5 1394.4,1318.9 1396.4,1318.4 1398.4,1318.9 1400.4,1319.6 1402.4,1319.7 1404.4,1319.4 1406.4,1318.9 1408.4,1318.7 1410.4,1318.7 1412.4,1318.4 1414.4,1318.0 1416.4,1317.9 1418.4,1317.8 1420.4,1317.0 1422.4,1315.8 1424.4,1315.5 1426.4,1315.5 1428.4,1315.2 1430.4,1315.1 1432.4,1315.3 1434.4,1315.1 1436.4,1314.5 1438.4,1314.0 1440.4,1314.2 1442.4,1314.5 1444.4,1314.5 1446.4,1315.3 1448.4,1315.7 1450.4,1314.8 1452.4,1314.8 1454.4,1315.6 1456.4,1315.5 1458.4,1314.9 1460.4,1314.9 1462.4,1315.4 1464.4,1315.9 1466.4,1316.0 1468.4,1315.6 1470.4,1315.5 1472.4,1315.7 1474.4,1316.0 1476.4,1316.6 1478.4,1316.5 1480.4,1316.2 1482.4,1316.1 1484.4,1316.5 1486.4,1316.7 1488.4,1316.4 1490.4,1316.1 1492.4,1316.3 1494.3,1316.8 1496.3,1317.3 1498.3,1317.7 1500.3,1317.7 1502.3,1317.2 1504.3,1317.0 1506.3,1317.2 1508.3,1317.1 1510.3,1317.0 1512.3,1317.4 1514.3,1317.8 1516.3,1317.7 1518.3,1317.1 1520.3,1317.1 1522.3,1317.6 1524.3,1317.9 1526.3,1318.2 1528.3,1318.1 1530.3,1317.9 1532.3,1318.4 1534.3,1319.4 1536.3,1319.4 1538.3,1319.3 1540.3,1319.5 1542.3,1319.9 1544.3,1320.4 1546.3,1320.6 1548.3,1320.8 1550.3,1321.0 1552.3,1320.9 1554.3,1321.6 1556.3,1321.8 1558.3,1321.3 1560.3,1321.2 1562.3,1321.0 1564.3,1320.8 1566.3,1321.5 1568.3,1322.4 1570.3,1322.6 1572.3,1322.3 1574.3,1322.1 1576.3,1322.3 1578.3,1322.4 1580.3,1322.2 1582.3,1322.1 1584.3,1322.7 1586.3,1323.7 1588.3,1324.4 1590.3,1324.2 1592.3,1323.8 1594.3,1323.9 1596.3,1324.0 1598.3,1323.5 1600.3,1323.2 1602.3,1323.7 1604.3,1324.3 1606.3,1324.5 1608.3,1324.4 1610.3,1324.4 1612.3,1324.8 1614.3,1325.3 1616.3,1325.6 1618.3,1325.6 1620.3,1325.6 1622.3,1325.7 1624.3,1326.1 1626.3,1326.1 1628.3,1325.8 1630.3,1326.2 1632.3,1326.5 1634.3,1326.6 1636.3,1327.0 1638.3,1327.2 1640.3,1327.2 1642.3,1327.2 1644.3,1327.6 1646.3,1327.9 1648.3,1327.7 1650.3,1327.7 1652.3,1327.9 1654.3,1328.2 1656.3,1328.4 1658.3,1328.5 1660.3,1328.3 1662.3,1327.8 1664.3,1327.9 1666.3,1328.4 1668.3,1329.3 1670.3,1330.0 1672.3,1329.7 1674.3,1328.7 1676.3,1328.5 1678.3,1329.2 1680.3,1329.4 1682.3,1329.4 1684.3,1329.9 1686.3,1330.0 1688.3,1329.5 1690.3,1329.6 1692.3,1330.3 1694.3,1330.6 1696.3,1330.3 1698.2,1330.3 1700.2,1330.8 1702.2,1331.5 1704.2,1331.9 1706.2,1332.3 1708.2,1332.2 1710.2,1332.1 1712.2,1332.1 1714.2,1331.8 1716.2,1331.4 1718.2,1331.7 1720.2,1332.1 1722.2,1332.0 1724.2,1331.9 1726.2,1332.4 1728.2,1333.0 1730.2,1332.6 1732.2,1332.3 1734.2,1332.9 1736.2,1333.8 1738.2,1334.0 1740.2,1333.8 1742.2,1333.7 1744.2,1333.7 1746.2,1334.4 1748.2,1335.3 1750.2,1335.1 1752.2,1334.3 1754.2,1334.0 1756.2,1334.1 1758.2,1333.8 1760.2,1333.9 1762.2,1334.9 1764.2,1335.4 1766.2,1335.4 1768.2,1335.2 1770.2,1335.0 1772.2,1335.3 1774.2,1335.2 1776.2,1335.4 1778.2,1335.8 1780.2,1336.3 1782.2,1336.5 1784.2,1335.9 1786.2,1335.3 1788.2,1335.2 1790.2,1335.4 1792.2,1335.2 1794.2,1335.0 1796.2,1335.6 1798.2,1335.9 1800.2,1335.6 1802.2,1335.4 1804.2,1335.5 1806.2,1335.2 1808.2,1335.4 1810.2,1336.3 1812.2,1336.7 1814.2,1336.5 1816.2,1336.1 1818.2,1336.2 1820.2,1336.7 1822.2,1337.0 1824.2,1336.5 1826.2,1336.1 1828.2,1336.3 1830.2,1336.3 1832.2,1336.3 1834.2,1336.7 1836.2,1336.9 1838.2,1336.9 1840.2,1336.5 1842.2,1336.1 1844.2,1336.1 1846.2,1336.4 1848.2,1336.5 1850.2,1336.9 1852.2,1336.7 1854.2,1336.4 1856.2,1336.8 1858.2,1337.0 1860.2,1337.1 1862.2,1337.2 1864.2,1337.3 1866.2,1336.5 1868.2,1335.6 1870.2,1335.5 1872.2,1336.0 1874.2,1337.0 1876.2,1337.5 1878.2,1336.8 1880.2,1336.4 1882.2,1336.9 1884.2,1337.1 1886.2,1336.9 1888.2,1337.0 1890.2,1336.8 1892.2,1336.7 1894.2,1336.9 1896.2,1336.8 1898.2,1336.5 1900.2,1337.1 1902.2,1337.9 1904.1,1338.3 1906.1,1337.9 1908.1,1337.0 1910.1,1336.7 1912.1,1337.1 1914.1,1337.2 1916.1,1337.0 1918.1,1336.7 1920.1,1336.5 1922.1,1336.9 1924.1,1337.6 1926.1,1337.7 1928.1,1337.4 1930.1,1337.6 1932.1,1337.6 1934.1,1337.2 1936.1,1337.4 1938.1,1337.6 1940.1,1337.5 1942.1,1337.7 1944.1,1337.7 1946.1,1337.5 1948.1,1337.2 1950.1,1337.1 1952.1,1337.5 1954.1,1337.6 1956.1,1337.5 1958.1,1337.6 1960.1,1337.8 1962.1,1337.6 1964.1,1337.5 1966.1,1337.8 1968.1,1338.1 1970.1,1337.8 1972.1,1337.7 1974.1,1338.0 1976.1,1338.0 1978.1,1338.0 1980.1,1337.8 1982.1,1337.4 1984.1,1337.2 1986.1,1337.4 1988.1,1337.4 1990.1,1337.3 1992.1,1338.0 1994.1,1338.5 1996.1,1338.0 1998.1,1337.4 2000.1,1337.4 2002.1,1338.1 2004.1,1338.4 2006.1,1338.5 2008.1,1338.4 2010.1,1338.1 2012.1,1338.2 2014.1,1338.4 2016.1,1338.4 2018.1,1338.6 2020.1,1338.6 2022.1,1338.3 2024.1,1337.9 2026.1,1338.3 2028.1,1338.6 2030.1,1338.3 2032.1,1338.2 2034.1,1338.7 2036.1,1339.2 2038.1,1339.0 2040.1,1338.6 2042.1,1339.1 2044.1,1339.5 2046.1,1338.9 2048.1,1338.5 2050.1,1338.6 2052.1,1338.7 2054.1,1338.5 2056.1,1338.3 2058.1,1338.3 2060.1,1338.6 2062.1,1339.3 2064.1,1339.3 2066.1,1338.7 2068.1,1339.0 2070.1,1339.2 2072.1,1339.0 2074.1,1339.2 2076.1,1339.4 2078.1,1339.4 2080.1,1339.2 2082.1,1339.0 2084.1,1339.2 2086.1,1339.4 2088.1,1339.1 2090.1,1339.2 2092.1,1339.5 2094.1,1339.7 2096.1,1339.7 2098.1,1339.2 2100.1,1339.0 2102.1,1339.7 2104.1,1340.3 2106.1,1340.3 2108.1,1340.1 2110.0,1339.9 2112.0,1339.4 2114.0,1339.1 2116.0,1339.3 2118.0,1339.7 2120.0,1340.1 2122.0,1340.0 2124.0,1339.5 2126.0,1339.3 2128.0,1339.5 2130.0,1339.9 2132.0,1340.0 2134.0,1339.9 2136.0,1339.7 2138.0,1339.2 2140.0,1339.4 2142.0,1340.1 2144.0,1340.0 2146.0,1339.8 2148.0,1339.8 2150.0,1339.6 2152.0,1339.6 2154.0,1339.7 2156.0,1339.8 2158.0,1339.6 2160.0,1339.5 2162.0,1339.5 2164.0,1339.5 2166.0,1339.6 2168.0,1339.7 2170.0,1339.7 2172.0,1339.6 2174.0,1339.3 2176.0,1339.2 2178.0,1339.5 2180.0,1339.9 2182.0,1340.0 2184.0,1339.6 2186.0,1339.4 2188.0,1339.5 2190.0,1339.8 2192.0,1340.1 2194.0,1340.5 2196.0,1340.2 2198.0,1339.3 2200.0,1339.1 2202.0,1339.6 2204.0,1340.0 2206.0,1340.0 2208.0,1339.9 2210.0,1339.9 2212.0,1339.9 2217.0,1339.9"/>
<polyline stroke="#0000ff" points="152.0,1378.4 157.0,1378.4 159.0,1378.4 161.0,1378.4 163.0,1378.4 165.0,1378.4 167.0,1378.4 169.0,1378.4 171.0,1378.4 173.0,1378.4 175.0,1378.4 177.0,1378.4 179.0,1378.4 181.0,1378.4 183.0,1378.4 185.0,1378.4 187.0,1378.4 189.0,1378.4 191.0,1378.4 193.0,1378.4 195.0,1378.4 197.0,1378.4 199.0,1378.4 201.0,1378.4 203.0,1378.4 205.0,1378.4 207.0,1378.4 209.0,1378.4 211.0,1378.4 213.0,1378.4 215.0,1378.4 217.0,1378.4 219.0,1378.4 221.0,1378.4 223.0,1378.4 225.0,1378.4 227.0,1378.4 229.0,1378.4 231.0,1378.4 233.0,1378.4 235.0,1378.4 237.0,1378.4 239.0,1378.4 241.0,1378.4 243.0,1378.4 245.0,1378.4 247.0,1378.4 249.0,1378.4 251.0,1378.4 253.0,1378.4 255.0,1378.4 257.0,1378.4 259.0,1378.4 260.9,1378.4 262.9,1378.4 264.9,1378.4 266.9,1378.4 268.9,1378.4 270.9,1378.4 272.9,1378.4 274.9,1378.4 276.9,1378.4 278.9,1378.4 280.9,1378.4 282.9,1378.4 284.9,1378.4 286.9,1378.4 288.9,1378.4 290.9,1378.4 292.9,1378.4 294.9,1378.4 296.9,1378.4 298.9,1378.4 300.9,1378.4 302.9,1378.4 304.9,1378.4 306.9,1378.4 308.9,1378.4 310.9,1378.4 312.9,1378.4 314.9,1378.4 316.9,1378.4 318.9,1378.4 320.9,1378.4 322.9,1378.4 324.9,1378.4 326.9,1378.4 328.9,1378.4 330.9,1378.4 332.9,1378.4 334.9,1378.4 336.9,1378.4 338.9,1378.4 340.9,1378.4 342.9,1378.4 344.9,1378.4 346.9,1378.4 348.9,1378.4 350.9,1378.4 352.9,1378.4 354.9,1378.4 356.9,1378.4 358.9,1378.4 360.9,1378.4 362.9,1378.4 364.9,1378.4 366.9,1378.4 368.9,1378.4 370.9,1378.4 372.9,1378.4 374.9,1378.4 376.9,1378.4 378.9,1378.4 380.9,1378.4 382.9,1378.4 384.9,1378.4 386.9,1378.4 388.9,1378.4 390.9,1378.4 392.9,1378.4 394.9,1378.4 396.9,1378.4 398.9,1378.4 400.9,1378.4 402.9,1378.4 404.9,1378.4 406.9,1378.4 408.9,1378.4 410.9,1378.4 412.9,1378.4 414.9,1378.4 416.9,1378.4 418.9,1378.4 420.9,1378.4 422.9,1378.4 424.9,1378.4 426.9,1378.4 428.9,1378.4 430.9,1378.4 432.9,1378.4 434.9,1378.4 436.9,1378.4 438.9,1378.4 440.9,1378.4 442.9,1378.4 444.9,1378.4 446.9,1378.4 448.9,1378.4 450.9,1378.4 452.9,1378.4 454.9,1378.4 456.9,1378.4 458.9,1378.4 460.9,1378.4 462.9,1378.4 464.9,1378.4 466.8,1378.4 468.8,1378.4 470.8,1378.4 472.8,1378.4 474.8,1378.4 476.8,1378.4 478.8,1378.4 480.8,1378.4 482.8,1378.4 484.8,1378.4 486.8,1378.4 488.8,1378.4 490.8,1378.4 492.8,1378.4 494.8,1378.4 496.8,1378.4 498.8,1378.4 500.8,1378.4 502.8,1378.4 504.8,1378.4 506.8,1378.4 508.8,1378.4 510.8,1378.4 512.8,1378.4 514.8,1378.4 516.8,1378.4 518.8,1378.4 520.8,1378.4 522.8,1378.4 524.8,1378.4 526.8,1378.4 528.8,1378.4 530.8,1378.4 532.8,1378.4 534.8,1378.4 536.8,1378.4 538.8,1378.4 540.8,1378.4 542.8,1378.4 544.8,1378.4 546.8,1378.3 548.8,1378.3 550.8,1378.0 552.8,1377.6 554.8,1377.1 556.8,1376.8 558.8,1376.4 560.8,1376.0 562.8,1375.5 564.8,1375.2 566.8,1374.7 568.8,1373.9 570.8,1372.9 572.8,1372.1 574.8,1371.2 576.8,1370.8 578.8,1370.6 580.8,1369.9 582.8,1369.2 584.8,1368.2 586.8,1367.6 588.8,1367.3 590.8,1366.7 592.8,1366.1 594.8,1365.5 596.8,1365.1 598.8,1364.9 600.8,1365.1 602.8,1365.6 604.8,1365.8 606.8,1365.5 608.8,1364.8 610.8,1365.2 612.8,1366.0 614.8,1366.1 616.8,1366.5 618.8,1366.5 620.8,1366.2 622.8,1366.9 624.8,1367.5 626.8,1367.0 628.8,1366.4 630.8,1366.3 632.8,1366.2 634.8,1365.9 636.8,1366.6 638.8,1367.7 640.8,1367.5 642.8,1367.2 644.8,1367.4 646.8,1367.5 648.8,1367.4 650.8,1367.5 652.8,1367.2 654.8,1366.8 656.8,1366.4 658.8,1365.4 660.8,1365.4 662.8,1365.7 664.8,1365.4 666.8,1365.2 668.8,1365.0 670.8,1365.3 672.7,1365.9 674.7,1365.4 676.7,1364.7 678.7,1364.5 680.7,1364.1 682.7,1363.8 684.7,1363.8 686.7,1363.3 688.7,1362.4 690.7,1362.2 692.7,1361.8 694.7,1361.2 696.7,1361.1 698.7,1360.9 700.7,1360.9 702.7,1360.7 704.7,1360.0 706.7,1359.6 708.7,1358.9 710.7,1357.9 712.7,1357.6 714.7,1357.5 716.7,1357.2 718.7,1357.0 720.7,1356.5 722.7,1356.2 724.7,1356.6 726.7,1356.5 728.7,1355.2 730.7,1354.5 732.7,1354.5 734.7,1354.7 736.7,1354.2 738.7,1352.8 740.7,1352.0 742.7,1351.6 744.7,1351.0 746.7,1350.7 748.7,1350.7 750.7,1350.6 752.7,1350.8 754.7,1350.2 756.7,1348.8 758.7,1348.0 760.7,1348.0 762.7,1347.8 764.7,1346.5 766.7,1345.4 768.7,1345.1 770.7,1344.4 772.7,1343.5 774.7,1342.9 776.7,1341.8 778.7,1340.4 780.7,1339.1 782.7,1338.3 784.7,1337.2 786.7,1336.0 788.7,1335.5 790.7,1334.8 792.7,1334.0 794.7,1333.8 796.7,1333.8 798.7,1333.2 800.7,1332.3 802.7,1331.2 804.7,1329.3 806.7,1328.0 808.7,1327.9 810.7,1327.7 812.7,1326.8 814.7,1326.0 816.7,1324.7 818.7,1323.2 820.7,1322.8 822.7,1322.4 824.7,1320.5 826.7,1318.9 828.7,1318.4 830.7,1318.1 832.7,1317.3 834.7,1316.4 836.7,1315.3 838.7,1314.4 840.7,1314.6 842.7,1314.6 844.7,1313.3 846.7,1311.7 848.7,1310.3 850.7,1309.1 852.7,1308.7 854.7,1308.0 856.7,1306.8 858.7,1306.1 860.7,1305.4 862.7,1304.5 864.7,1303.4 866.7,1301.9 868.7,1300.3 870.7,1299.6 872.7,1299.4 874.7,1299.0 876.6,1298.7 878.6,1298.1 880.6,1296.9 882.6,1296.1 884.6,1295.7 886.6,1295.2 888.6,1294.5 890.6,1294.0 892.6,1293.7 894.6,1293.0 896.6,1292.3 898.6,1291.7 900.6,1290.8 902.6,1289.7 904.6,1289.2 906.6,1289.0 908.6,1289.0 910.6,1289.0 912.6,1288.1 914.6,1287.6 916.6,1287.9 918.6,1288.0 920.6,1287.7 922.6,1287.7 924.6,1287.5 926.6,1287.3 928.6,1287.5 930.6,1287.4 932.6,1286.7 934.6,1286.2 936.6,1285.8 938.6,1284.7 940.6,1283.6 942.6,1283.5 944.6,1283.8 946.6,1283.9 948.6,1283.7 950.6,1282.6 952.6,1281.3 954.6,1280.4 956.6,1280.1 958.6,1280.0 960.6,1279.3 962.6,1278.1 964.6,1277.5 966.6,1277.5 968.6,1277.0 970.6,1275.7 972.6,1274.3 974.6,1273.5 976.6,1272.8 978.6,1272.2 980.6,1272.1 982.6,1271.6 984.6,1270.8 986.6,1269.8 988.6,1268.6 990.6,1267.6 992.6,1266.6 994.6,1266.0 996.6,1265.3 998.6,1263.7 1000.6,1262.2 1002.6,1261.5 1004.6,1260.7 1006.6,1259.7 1008.6,1259.4 1010.6,1259.7 1012.6,1259.2 1014.6,1258.0 1016.6,1257.6 1018.6,1256.8 1020.6,1255.5 1022.6,1254.9 1024.6,1254.5 1026.6,1253.7 1028.6,1252.8 1030.6,1252.7 1032.6,1253.1 1034.6,1253.1 1036.6,1252.4 1038.6,1251.7 1040.6,1251.4 1042.6,1250.4 1044.6,1249.3 1046.6,1249.0 1048.6,1248.6 1050.6,1248.0 1052.6,1247.6 1054.6,1247.3 1056.6,1246.4 1058.6,1245.7 1060.6,1245.3 1062.6,1244.5 1064.6,1243.8 1066.6,1243.4 1068.6,1242.3 1070.6,1241.2 1072.6,1240.1 1074.6,1239.0 1076.6,1238.8 1078.6,1238.6 1080.6,1237.5 1082.5,1236.6 1084.5,1236.2 1086.5,1236.6 1088.5,1237.4 1090.5,1237.2 1092.5,1236.6 1094.5,1236.3 1096.5,1236.0 1098.5,1235.5 1100.5,1234.9 1102.5,1234.4 1104.5,1234.1 1106.5,1233.5 1108.5,1232.6 1110.5,1231.3 1112.5,1230.3 1114.5,1229.9 1116.5,1229.6 1118.5,1229.5 1120.5,1229.2 1122.5,1228.4 1124.5,1227.2 1126.5,1226.5 1128.5,1226.9 1130.5,1226.6 1132.5,1225.5 1134.5,1225.5 1136.5,1225.5 1138.5,1225.1 1140.5,1225.2 1142.5,1224.5 1144.5,1224.1 1146.5,1224.5 1148.5,1224.2 1150.5,1223.7 1152.5,1223.3 1154.5,1222.9 1156.5,1222.9 1158.5,1222.3 1160.5,1221.4 1162.5,1220.7 1164.5,1220.1 1166.5,1219.1 1168.5,1217.8 1170.5,1217.0 1172.5,1215.9 1174.5,1214.8 1176.5,1214.0 1178.5,1213.3 1180.5,1213.1 1182.5,1213.3 1184.5,1213.1 1186.5,1212.9 1188.5,1212.2 1190.5,1211.0 1192.5,1210.2 1194.5,1210.4 1196.5,1210.5 1198.5,1210.0 1200.5,1209.5 1202.5,1209.0 1204.5,1207.9 1206.5,1207.4 1208.5,1208.1 1210.5,1208.5 1212.5,1207.7 1214.5,1206.9 1216.5,1207.0 1218.5,1207.2 1220.5,1206.9 1222.5,1206.2 1224.5,1205.8 1226.5,1205.9 1228.5,1206.3 1230.5,1206.9 1232.5,1206.6 1234.5,1205.5 1236.5,1205.1 1238.5,1205.2 1240.5,1205.3 1242.5,1205.6 1244.5,1205.6 1246.5,1205.7 1248.5,1205.8 1250.5,1205.2 1252.5,1204.4 1254.5,1204.2 1256.5,1204.4 1258.5,1204.9 1260.5,1205.8 1262.5,1207.3 1264.5,1208.0 1266.5,1207.8 1268.5,1207.5 1270.5,1207.3 1272.5,1208.1 1274.5,1208.5 1276.5,1208.0 1278.5,1208.3 1280.5,1208.9 1282.5,1208.7 1284.5,1208.7 1286.5,1208.7 1288.4,1208.5 1290.4,1209.0 1292.4,1209.3 1294.4,1208.5 1296.4,1208.3 1298.4,1209.0 1300.4,1209.6 1302.4,1209.8 1304.4,1209.4 1306.4,1208.7 1308.4,1208.6 1310.4,1209.2 1312.4,1209.6 1314.4,1209.8 1316.4,1210.7 1318.4,1212.0 1320.4,1212.6 1322.4,1213.0 1324.4,1213.8 1326.4,1214.5 1328.4,1215.3 1330.4,1216.5 1332.4,1217.7 1334.4,1218.1 1336.4,1217.2 1338.4,1216.7 1340.4,1216.5 1342.4,1216.0 1344.4,1216.2 1346.4,1217.2 1348.4,1219.0 1350.4,1220.5 1352.4,1220.9 1354.4,1221.4 1356.4,1222.4 1358.4,1222.7 1360.4,1222.9 1362.4,1223.0 1364.4,1222.9 1366.4,1223.8 1368.4,1224.6 1370.4,1224.8 1372.4,1224.7 1374.4,1225.0 1376.4,1225.7 1378.4,1226.4 1380.4,1226.7 1382.4,1227.4 1384.4,1228.6 1386.4,1229.6 1388.4,1230.1 1390.4,1230.8 1392.4,1231.6 1394.4,1231.9 1396.4,1231.5 1398.4,1231.1 1400.4,1231.0 1402.4,1231.2 1404.4,1231.6 1406.4,1231.6 1408.4,1231.2 1410.4,1231.0 1412.4,1231.1 1414.4,1231.4 1416.4,1231.0 1418.4,1229.9 1420.4,1228.5 1422.4,1227.3 1424.4,1227.0 1426.4,1227.3 1428.4,1226.9 1430.4,1226.1 1432.4,1225.6 1434.4,1225.8 1436.4,1226.5 1438.4,1226.5 1440.4,1225.7 1442.4,1225.7 1444.4,1226.4 1446.4,1226.6 1448.4,1226.9 1450.4,1228.0 1452.4,1228.7 1454.4,1228.6 1456.4,1229.4 1458.4,1230.5 1460.4,1230.8 1462.4,1231.2 1464.4,1232.1 1466.4,1232.1 1468.4,1232.0 1470.4,1232.5 1472.4,1232.9 1474.4,1233.3 1476.4,1233.7 1478.4,1234.2 1480.4,1234.9 1482.4,1235.7 1484.4,1236.3 1486.4,1236.5 1488.4,1237.0 1490.4,1237.2 1492.4,1237.2 1494.3,1238.0 1496.3,1238.9 1498.3,1239.5 1500.3,1240.7 1502.3,1241.7 1504.3,1241.4 1506.3,1241.3 1508.3,1242.0 1510.3,1242.2 1512.3,1242.2 1514.3,1243.0 1516.3,1243.0 1518.3,1242.6 1520.3,1243.5 1522.3,1244.7 1524.3,1245.5 1526.3,1246.3 1528.3,1247.0 1530.3,1247.5 1532.3,1247.4 1534.3,1247.6 1536.3,1248.9 1538.3,1249.7 1540.3,1249.3 1542.3,1248.8 1544.3,1249.5 1546.3,1250.5 1548.3,1250.3 1550.3,1249.9 1552.3,1250.3 1554.3,1250.7 1556.3,1250.7 1558.3,1250.5 1560.3,1251.0 1562.3,1252.3 1564.3,1253.6 1566.3,1254.5 1568.3,1255.5 1570.3,1256.2 1572.3,1256.8 1574.3,1257.3 1576.3,1257.9 1578.3,1258.6 1580.3,1258.8 1582.3,1258.8 1584.3,1259.1 1586.3,1259.6 1588.3,1260.1 1590.3,1260.5 1592.3,1260.5 1594.3,1260.5 1596.3,1261.4 1598.3,1262.0 1600.3,1262.2 1602.3,1263.0 1604.3,1263.3 1606.3,1263.0 1608.3,1263.3 1610.3,1264.1 1612.3,1264.4 1614.3,1264.8 1616.3,1265.5 1618.3,1265.5 1620.3,1265.6 1622.3,1266.2 1624.3,1267.2 1626.3,1268.1 1628.3,1268.6 1630.3,1268.9 1632.3,1269.2 1634.3,1269.6 1636.3,1270.4 1638.3,1271.4 1640.3,1271.3 1642.3,1270.8 1644.3,1271.8 1646.3,1273.0 1648.3,1273.1 1650.3,1273.6 1652.3,1274.4 1654.3,1275.0 1656.3,1276.3 1658.3,1277.1 1660.3,1277.3 1662.3,1277.9 1664.3,1278.3 1666.3,1279.0 1668.3,1280.3 1670.3,1281.3 1672.3,1282.1 1674.3,1282.8 1676.3,1283.0 1678.3,1283.3 1680.3,1284.3 1682.3,1285.4 1684.3,1286.2 1686.3,1286.2 1688.3,1286.1 1690.3,1286.7 1692.3,1287.1 1694.3,1286.8 1696.3,1287.4 1698.2,1288.5 1700.2,1289.1 1702.2,1289.3 1704.2,1289.7 1706.2,1290.1 1708.2,1290.4 1710.2,1290.5 1712.2,1290.8 1714.2,1291.4 1716.2,1292.5 1718.2,1293.7 1720.2,1293.9 1722.2,1293.8 1724.2,1294.2 1726.2,1294.6 1728.2,1295.2 1730.2,1295.8 1732.2,1296.3 1734.2,1296.5 1736.2,1296.6 1738.2,1297.2 1740.2,1297.5 1742.2,1297.4 1744.2,1297.9 1746.2,1298.4 1748.2,1298.4 1750.2,1298.2 1752.2,1298.5 1754.2,1299.2 1756.2,1299.1 1758.2,1299.1 1760.2,1299.4 1762.2,1299.5 1764.2,1300.1 1766.2,1300.6 1768.2,1300.5 1770.2,1300.1 1772.2,1299.4 1774.2,1299.7 1776.2,1300.6 1778.2,1300.6 1780.2,1300.6 1782.2,1301.0 1784.2,1300.7 1786.2,1300.4 1788.2,1300.5 1790.2,1300.4 1792.2,1300.1 1794.2,1300.5 1796.2,1301.2 1798.2,1300.6 1800.2,1299.2 1802.2,1299.3 1804.2,1300.3 1806.2,1300.5 1808.2,1300.6 1810.2,1300.5 1812.2,1300.2 1814.2,1300.6 1816.2,1300.8 1818.2,1300.7 1820.2,1300.8 1822.2,1300.7 1824.2,1300.3 1826.2,1300.2 1828.2,1300.5 1830.2,1300.2 1832.2,1300.1 1834.2,1300.8 1836.2,1301.3 1838.2,1301.0 1840.2,1300.6 1842.2,1300.3 1844.2,1299.9 1846.2,1299.7 1848.2,1300.1 1850.2,1300.2 1852.2,1300.3 1854.2,1300.5 1856.2,1299.8 1858.2,1299.4 1860.2,1300.0 1862.2,1300.5 1864.2,1300.3 1866.2,1299.8 1868.2,1299.6 1870.2,1299.5 1872.2,1299.7 1874.2,1300.5 1876.2,1300.8 1878.2,1300.6 1880.2,1300.6 1882.2,1300.9 1884.2,1299.9 1886.2,1299.1 1888.2,1299.7 1890.2,1300.3 1892.2,1300.3 1894.2,1300.1 1896.2,1300.6 1898.2,1300.8 1900.2,1300.1 1902.2,1299.4 1904.1,1299.4 1906.1,1300.1 1908.1,1300.7 1910.1,1300.8 1912.1,1301.0 1914.1,1301.0 1916.1,1300.7 1918.1,1300.4 1920.1,1299.9 1922.1,1299.7 1924.1,1300.0 1926.1,1300.0 1928.1,1300.5 1930.1,1300.9 1932.1,1300.5 1934.1,1299.8 1936.1,1300.0 1938.1,1300.4 1940.1,1300.2 1942.1,1300.0 1944.1,1300.1 1946.1,1300.4 1948.1,1300.5 1950.1,1299.9 1952.1,1299.8 1954.1,1300.5 1956.1,1300.6 1958.1,1300.4 1960.1,1300.4 1962.1,1300.6 1964.1,1301.0 1966.1,1300.8 1968.1,1300.1 1970.1,1299.9 1972.1,1300.1 1974.1,1300.2 1976.1,1300.0 1978.1,1299.3 1980.1,1298.9 1982.1,1299.7 1984.1,1300.3 1986.1,1300.5 1988.1,1300.7 1990.1,1300.3 1992.1,1299.9 1994.1,1300.0 1996.1,1300.1 1998.1,1300.2 2000.1,1300.1 2002.1,1299.9 2004.1,1299.8 2006.1,1299.3 2008.1,1298.9 2010.1,1298.8 2012.1,1298.7 2014.1,1299.4 2016.1,1300.3 2018.1,1300.5 2020.1,1299.8 2022.1,1298.9 2024.1,1299.0 2026.1,1299.5 2028.1,1299.3 2030.1,1298.9 2032.1,1298.6 2034.1,1299.0 2036.1,1299.6 2038.1,1299.5 2040.1,1299.2 2042.1,1298.7 2044.1,1298.9 2046.1,1299.6 2048.1,1299.6 2050.1,1299.3 2052.1,1299.1 2054.1,1299.1 2056.1,1299.7 2058.1,1299.8 2060.1,1299.2 2062.1,1299.3 2064.1,1299.5 2066.1,1299.6 2068.1,1300.2 2070.1,1300.1 2072.1,1299.6 2074.1,1299.8 2076.1,1299.8 2078.1,1299.1 2080.1,1299.1 2082.1,1299.2 2084.1,1299.2 2086.1,1299.3 2088.1,1298.8 2090.1,1298.2 2092.1,1298.3 2094.1,1299.0 2096.1,1299.4 2098.1,1299.2 2100.1,1299.1 2102.1,1299.3 2104.1,1299.7 2106.1,1299.4 2108.1,1298.9 2110.0,1299.1 2112.0,1299.4 2114.0,1299.0 2116.0,1298.8 2118.0,1298.8 2120.0,1298.8 2122.0,1298.8 2124.0,1298.7 2126.0,1299.1 2128.0,1298.9 2130.0,1298.5 2132.0,1298.6 2134.0,1298.5 2136.0,1299.0 2138.0,1299.3 2140.0,1298.8 2142.0,1298.9 2144.0,1299.1 2146.0,1298.9 2148.0,1298.9 2150.0,1299.4 2152.0,1299.5 2154.0,1299.0 2156.0,1298.9 2158.0,1298.6 2160.0,1297.6 2162.0,1297.2 2164.0,1296.8 2166.0,1297.0 2168.0,1298.0 2170.0,1298.2 2172.0,1298.0 2174.0,1297.7 2176.0,1297.4 2178.0,1297.1 2180.0,1296.9 2182.0,1297.1 2184.0,1297.5 2186.0,1297.8 2188.0,1297.4 2190.0,1297.2 2192.0,1297.1 2194.0,1296.8 2196.0,1296.8 2198.0,1297.1 2200.0,1297.1 2202.0,1296.9 2204.0,1297.1 2206.0,1297.5 2208.0,1297.4 2210.0,1297.4 2212.0,1297.4 2217.0,1297.4"/>
<polyline stroke="#008080" stroke-width="12.4" points="152.0,1328.8 157.0,1328.8 159.0,1328.8 161.0,1328.8 163.0,1328.8 165.0,1328.8 167.0,1328.8 169.0,1328.8 171.0,1328.8 173.0,1328.8 175.0,1328.8 177.0,1328.8 179.0,1328.8 181.0,1328.8 183.0,1328.8 185.0,1328.8 187.0,1328.8 189.0,1328.8 191.0,1328.8 193.0,1328.8 195.0,1328.8 197.0,1328.8 199.0,1328.8 201.0,1328.8 203.0,1328.8 205.0,1328.8 207.0,1328.8 209.0,1328.8 211.0,1328.8 213.0,1328.8 215.0,1328.8 217.0,1328.8 219.0,1328.8 221.0,1328.8 223.0,1328.8 225.0,1328.8 227.0,1328.8 229.0,1328.8 231.0,1328.8 233.0,1328.8 235.0,1328.8 237.0,1328.8 239.0,1328.8 241.0,1328.8 243.0,1328.8 245.0,1328.8 247.0,1328.8 249.0,1328.8 251.0,1328.8 253.0,1328.8 255.0,1328.8 257.0,1328.8 259.0,1328.8 260.9,1328.8 262.9,1328.8 264.9,1328.8 266.9,1328.8 268.9,1328.8 270.9,1328.8 272.9,1328.8 274.9,1328.8 276.9,1328.8 278.9,1328.8 280.9,1328.8 282.9,1328.8 284.9,1328.8 286.9,1328.8 288.9,1328.8 290.9,1328.8 292.9,1328.8 294.9,1328.8 296.9,1328.8 298.9,1328.8 300.9,1328.8 302.9,1328.8 304.9,1328.8 306.9,1328.8 308.9,1328.8 310.9,1328.8 312.9,1328.8 314.9,1328.8 316.9,1328.8 318.9,1328.8 320.9,1328.8 322.9,1328.8 324.9,1328.8 326.9,1328.8 328.9,1328.8 330.9,1328.8 332.9,1328.8 334.9,1328.8 336.9,1328.8 338.9,1328.8 340.9,1328.8 342.9,1328.8 344.9,1328.8 346.9,1328.8 348.9,1328.8 350.9,1328.8 352.9,1328.8 354.9,1328.8 356.9,1328.8 358.9,1328.8 360.9,1328.8 362.9,1328.8 364.9,1328.8 366.9,1328.8 368.9,1328.8 370.9,1328.8 372.9,1328.8 374.9,1328.8 376.9,1328.8 378.9,1328.8 380.9,1328.8 382.9,1328.8 384.9,1328.8 386.9,1328.8 388.9,1328.8 390.9,1328.8 392.9,1328.8 394.9,1328.8 396.9,1328.8 398.9,1328.8 400.9,1328.8 402.9,1328.8 404.9,1328.8 406.9,1328.8 408.9,1328.8 410.9,1328.8 412.9,1328.8 414.9,1328.8 416.9,1328.8 418.9,1328.8 420.9,1328.8 422.9,1328.8 424.9,1328.8 426.9,1328.8 428.9,1328.8 430.9,1328.8 432.9,1328.8 434.9,1328.8 436.9,1328.8 438.9,1328.8 440.9,1328.8 442.9,1328.8 444.9,1328.8 446.9,1328.8 448.9,1328.8 450.9,1328.8 452.9,1328.8 454.9,1328.8 456.9,1328.8 458.9,1328.8 460.9,1328.8 462.9,1328.8 464.9,1328.8 466.8,1328.8 468.8,1328.8 470.8,1328.8 472.8,1328.8 474.8,1328.8 476.8,1328.8 478.8,1328.8 480.8,1328.8 482.8,1328.8 484.8,1328.8 486.8,1328.8 488.8,1328.8 490.8,1328.8 492.8,1328.8 494.8,1328.8 496.8,1328.8 498.8,1328.8 500.8,1328.8 502.8,1328.8 504.8,1328.8 506.8,1328.8 508.8,1328.8 510.8,1328.8 512.8,1328.8 514.8,1328.8 516.8,1328.8 518.8,1328.8 520.8,1328.8 522.8,1328.8 524.8,1328.8 526.8,1328.8 528.8,1328.8 530.8,1328.8 532.8,1328.8 534.8,1328.8 536.8,1328.8 538.8,1328.8 540.8,1328.8 542.8,1328.8 544.8,1328.7 546.8,1327.7 548.8,1326.2 550.8,1323.8 552.8,1320.1 554.8,1315.5 556.8,1309.6 558.8,1303.6 560.8,1296.5 562.8,1287.3 564.8,1276.9 566.8,1265.4 568.8,1253.0 570.8,1239.1 572.8,1228.6 574.8,1219.3 576.8,1196.8 578.8,1177.0 580.8,1161.0 582.8,1145.3 584.8,1127.9 586.8,1110.1 588.8,1093.2 590.8,1077.2 592.8,1063.7 594.8,1051.6 596.8,1040.1 598.8,1029.3 600.8,1018.2 602.8,1007.1 604.8,997.3 606.8,989.4 608.8,981.3 610.8,972.7 612.8,965.6 614.8,958.8 616.8,950.7 618.8,942.9 620.8,934.7 622.8,926.7 624.8,919.6 626.8,914.0 628.8,909.4 630.8,904.3 632.8,899.0 634.8,894.2 636.8,888.4 638.8,881.2 640.8,875.3 642.8,871.6 644.8,867.9 646.8,863.5 648.8,860.2 650.8,856.0 652.8,848.1 654.8,838.8 656.8,832.0 658.8,824.9 660.8,813.3 662.8,799.9 664.8,789.1 666.8,779.6 668.8,769.8 670.8,759.7 672.7,749.1 674.7,735.9 676.7,719.5 678.7,701.5 680.7,685.9 682.7,673.5 684.7,663.6 686.7,655.6 688.7,647.9 690.7,640.0 692.7,632.4 694.7,624.6 696.7,614.9 698.7,604.0 700.7,594.5 702.7,585.6 704.7,576.1 706.7,567.4 708.7,558.7 710.7,549.3 712.7,540.5 714.7,531.8 716.7,521.7 718.7,511.6 720.7,504.2 722.7,498.1 724.7,489.9 726.7,481.5 728.7,473.4 730.7,464.1 732.7,457.3 734.7,453.8 736.7,448.1 738.7,441.4 740.7,435.1 742.7,427.7 744.7,420.7 746.7,413.7 748.7,407.2 750.7,402.2 752.7,397.8 754.7,393.3 756.7,388.1 758.7,382.4 760.7,378.4 762.7,375.3 764.7,370.5 766.7,365.4 768.7,362.2 770.7,360.4 772.7,358.5 774.7,356.2 776.7,354.6 778.7,351.0 780.7,345.5 782.7,342.6 784.7,341.5 786.7,341.2 788.7,337.8 790.7,331.2 792.7,331.0 794.7,330.1 796.7,329.7 798.7,330.0 800.7,328.6 802.7,326.4 804.7,323.8 806.7,320.7 808.7,316.8 810.7,311.9 812.7,306.1 814.7,301.0 816.7,297.6 818.7,292.5 820.7,285.3 822.7,276.4 824.7,266.6 826.7,261.8 828.7,260.6 830.7,260.1 832.7,260.3 834.7,256.7 836.7,249.4 838.7,247.2 840.7,247.5 842.7,247.7 844.7,247.2 846.7,247.5 848.7,248.3 850.7,248.0 852.7,247.2 854.7,247.2 856.7,247.9 858.7,248.5 860.7,249.7 862.7,252.3 864.7,255.1 866.7,257.0 868.7,259.3 870.7,262.6 872.7,265.2 874.7,267.0 876.6,270.7 878.6,276.0 880.6,279.7 882.6,282.9 884.6,287.9 886.6,292.4 888.6,294.5 890.6,296.2 892.6,299.4 894.6,302.1 896.6,303.7 898.6,306.5 900.6,310.5 902.6,314.1 904.6,317.5 906.6,320.7 908.6,323.4 910.6,326.4 912.6,330.6 914.6,336.8 916.6,351.8 918.6,364.6 920.6,371.2 922.6,377.5 924.6,386.8 926.6,396.2 928.6,404.1 930.6,411.5 932.6,420.6 934.6,427.2 936.6,430.4 938.6,432.7 940.6,436.3 942.6,439.7 944.6,441.8 946.6,443.2 948.6,444.7 950.6,446.6 952.6,447.4 954.6,447.8 956.6,448.8 958.6,449.8 960.6,450.4 962.6,449.8 964.6,449.0 966.6,449.1 968.6,449.9 970.6,450.5 972.6,449.9 974.6,448.3 976.6,447.8 978.6,448.6 980.6,449.9 982.6,451.1 984.6,452.2 986.6,453.4 988.6,454.2 990.6,454.8 992.6,454.4 994.6,453.1 996.6,452.1 998.6,451.8 1000.6,451.0 1002.6,449.4 1004.6,449.3 1006.6,450.1 1008.6,449.8 1010.6,448.6 1012.6,448.5 1014.6,449.9 1016.6,450.6 1018.6,449.9 1020.6,450.1 1022.6,451.4 1024.6,452.5 1026.6,453.6 1028.6,454.2 1030.6,454.6 1032.6,454.7 1034.6,454.6 1036.6,454.1 1038.6,453.0 1040.6,451.7 1042.6,451.5 1044.6,451.6 1046.6,451.3 1048.6,451.2 1050.6,450.4 1052.6,449.2 1054.6,449.2 1056.6,450.0 1058.6,450.6 1060.6,451.5 1062.6,452.6 1064.6,454.7 1066.6,457.5 1068.6,458.8 1070.6,458.8 1072.6,458.2 1074.6,457.9 1076.6,458.0 1078.6,458.8 1080.6,460.2 1082.5,460.5 1084.5,459.5 1086.5,458.6 1088.5,458.1 1090.5,458.3 1092.5,457.9 1094.5,456.5 1096.5,456.0 1098.5,456.9 1100.5,458.3 1102.5,459.4 1104.5,460.1 1106.5,458.8 1108.5,456.7 1110.5,455.8 1112.5,454.9 1114.5,455.5 1116.5,458.2 1118.5,460.5 1120.5,461.3 1122.5,460.4 1124.5,459.2 1126.5,459.3 1128.5,458.7 1130.5,457.0 1132.5,456.0 1134.5,455.9 1136.5,456.1 1138.5,455.4 1140.5,453.9 1142.5,454.2 1144.5,457.1 1146.5,459.6 1148.5,460.9 1150.5,461.1 1152.5,460.4 1154.5,459.2 1156.5,459.1 1158.5,460.3 1160.5,460.0 1162.5,457.4 1164.5,453.9 1166.5,450.3 1168.5,445.3 1170.5,439.8 1172.5,434.8 1174.5,430.4 1176.5,426.8 1178.5,423.7 1180.5,420.5 1182.5,417.6 1184.5,415.7 1186.5,415.8 1188.5,415.5 1190.5,413.1 1192.5,412.1 1194.5,413.0 1196.5,413.2 1198.5,413.2 1200.5,414.1 1202.5,415.2 1204.5,416.2 1206.5,416.1 1208.5,415.4 1210.5,414.8 1212.5,414.7 1214.5,416.1 1216.5,417.3 1218.5,417.3 1220.5,418.4 1222.5,420.4 1224.5,421.8 1226.5,423.1 1228.5,424.3 1230.5,424.9 1232.5,424.4 1234.5,425.1 1236.5,427.0 1238.5,427.4 1240.5,427.0 1242.5,428.1 1244.5,430.1 1246.5,431.7 1248.5,432.8 1250.5,434.3 1252.5,436.4 1254.5,438.6 1256.5,440.9 1258.5,443.1 1260.5,444.8 1262.5,447.1 1264.5,449.7 1266.5,452.0 1268.5,455.2 1270.5,457.1 1272.5,458.1 1274.5,460.3 1276.5,462.4 1278.5,464.4 1280.5,466.5 1282.5,468.6 1284.5,470.9 1286.5,473.6 1288.4,476.5 1290.4,478.7 1292.4,479.2 1294.4,479.0 1296.4,479.6 1298.4,480.4 1300.4,482.1 1302.4,484.9 1304.4,487.4 1306.4,489.2 1308.4,491.2 1310.4,494.4 1312.4,497.3 1314.4,498.3 1316.4,499.9 1318.4,505.6 1320.4,512.2 1322.4,516.4 1324.4,518.3 1326.4,520.3 1328.4,524.5 1330.4,530.1 1332.4,534.7 1334.4,539.3 1336.4,545.1 1338.4,549.1 1340.4,550.7 1342.4,553.8 1344.4,558.2 1346.4,561.0 1348.4,563.1 1350.4,565.4 1352.4,569.0 1354.4,573.9 1356.4,578.6 1358.4,581.6 1360.4,585.0 1362.4,590.6 1364.4,595.6 1366.4,598.4 1368.4,601.0 1370.4,604.8 1372.4,609.5 1374.4,614.3 1376.4,618.1 1378.4,620.0 1380.4,622.8 1382.4,626.6 1384.4,629.8 1386.4,632.7 1388.4,636.0 1390.4,639.6 1392.4,642.7 1394.4,645.7 1396.4,648.1 1398.4,649.4 1400.4,650.9 1402.4,652.6 1404.4,653.7 1406.4,653.6 1408.4,652.4 1410.4,652.1 1412.4,652.2 1414.4,651.4 1416.4,648.6 1418.4,644.7 1420.4,641.9 1422.4,640.2 1424.4,638.0 1426.4,636.8 1428.4,636.3 1430.4,634.9 1432.4,634.1 1434.4,634.8 1436.4,636.8 1438.4,640.2 1440.4,643.9 1442.4,647.4 1444.4,650.5 1446.4,654.6 1448.4,659.5 1450.4,663.3 1452.4,666.3 1454.4,669.4 1456.4,672.7 1458.4,674.2 1460.4,676.0 1462.4,680.7 1464.4,684.8 1466.4,688.6 1468.4,692.1 1470.4,694.8 1472.4,698.4 1474.4,702.5 1476.4,706.0 1478.4,709.3 1480.4,713.1 1482.4,717.0 1484.4,720.8 1486.4,724.2 1488.4,728.0 1490.4,732.0 1492.4,735.0 1494.3,737.6 1496.3,740.8 1498.3,743.9 1500.3,747.7 1502.3,751.1 1504.3,753.0 1506.3,756.0 1508.3,760.3 1510.3,764.3 1512.3,768.5 1514.3,772.0 1516.3,774.6 1518.3,776.9 1520.3,779.3 1522.3,782.0 1524.3,785.4 1526.3,788.7 1528.3,792.0 1530.3,796.1 1532.3,798.9 1534.3,800.1 1536.3,802.9 1538.3,807.5 1540.3,809.8 1542.3,811.4 1544.3,815.6 1546.3,821.0 1548.3,825.6 1550.3,829.1 1552.3,832.8 1554.3,836.7 1556.3,839.7 1558.3,842.4 1560.3,846.4 1562.3,850.9 1564.3,854.5 1566.3,857.4 1568.3,860.5 1570.3,863.0 1572.3,864.4 1574.3,866.3 1576.3,868.4 1578.3,872.0 1580.3,877.0 1582.3,881.1 1584.3,884.9 1586.3,888.1 1588.3,890.1 1590.3,893.4 1592.3,896.9 1594.3,899.2 1596.3,902.9 1598.3,907.7 1600.3,911.7 1602.3,915.2 1604.3,918.2 1606.3,920.8 1608.3,923.4 1610.3,925.4 1612.3,927.5 1614.3,930.9 1616.3,935.0 1618.3,939.2 1620.3,942.8 1622.3,945.6 1624.3,948.5 1626.3,951.1 1628.3,953.4 1630.3,955.9 1632.3,958.4 1634.3,961.1 1636.3,965.0 1638.3,969.6 1640.3,972.1 1642.3,973.2 1644.3,975.5 1646.3,978.1 1648.3,980.6 1650.3,983.7 1652.3,987.4 1654.3,989.9 1656.3,992.3 1658.3,997.0 1660.3,1002.0 1662.3,1005.8 1664.3,1009.0 1666.3,1012.3 1668.3,1016.9 1670.3,1022.3 1672.3,1026.5 1674.3,1029.7 1676.3,1033.9 1678.3,1038.0 1680.3,1041.2 1682.3,1044.9 1684.3,1048.5 1686.3,1051.1 1688.3,1054.3 1690.3,1058.5 1692.3,1061.6 1694.3,1063.5 1696.3,1065.4 1698.2,1067.3 1700.2,1069.1 1702.2,1071.2 1704.2,1073.8 1706.2,1076.0 1708.2,1077.4 1710.2,1079.8 1712.2,1082.5 1714.2,1084.1 1716.2,1086.5 1718.2,1089.3 1720.2,1091.7 1722.2,1093.3 1724.2,1095.2 1726.2,1097.7 1728.2,1099.7 1730.2,1102.3 1732.2,1105.6 1734.2,1107.9 1736.2,1110.2 1738.2,1113.5 1740.2,1116.2 1742.2,1118.6 1744.2,1120.3 1746.2,1120.9 1748.2,1121.2 1750.2,1122.6 1752.2,1125.5 1754.2,1127.6 1756.2,1128.2 1758.2,1128.7 1760.2,1129.4 1762.2,1130.6 1764.2,1133.0 1766.2,1134.9 1768.2,1135.7 1770.2,1136.8 1772.2,1137.6 1774.2,1137.7 1776.2,1138.0 1778.2,1138.6 1780.2,1139.8 1782.2,1141.8 1784.2,1142.6 1786.2,1142.5 1788.2,1142.8 1790.2,1143.8 1792.2,1145.6 1794.2,1146.7 1796.2,1146.7 1798.2,1147.5 1800.2,1148.2 1802.2,1148.4 1804.2,1150.2 1806.2,1152.5 1808.2,1153.0 1810.2,1152.5 1812.2,1152.8 1814.2,1153.9 1816.2,1155.1 1818.2,1155.8 1820.2,1155.9 1822.2,1156.3 1824.2,1157.6 1826.2,1158.4 1828.2,1158.6 1830.2,1159.8 1832.2,1160.7 1834.2,1160.8 1836.2,1161.2 1838.2,1161.9 1840.2,1161.9 1842.2,1162.2 1844.2,1163.8 1846.2,1165.1 1848.2,1165.8 1850.2,1166.5 1852.2,1167.6 1854.2,1168.2 1856.2,1168.7 1858.2,1170.1 1860.2,1170.4 1862.2,1171.2 1864.2,1173.8 1866.2,1175.1 1868.2,1175.1 1870.2,1175.9 1872.2,1176.6 1874.2,1177.0 1876.2,1178.2 1878.2,1178.9 1880.2,1178.9 1882.2,1179.4 1884.2,1179.8 1886.2,1180.0 1888.2,1181.2 1890.2,1182.7 1892.2,1183.7 1894.2,1183.7 1896.2,1183.5 1898.2,1184.3 1900.2,1184.2 1902.2,1184.0 1904.1,1185.1 1906.1,1186.7 1908.1,1188.5 1910.1,1189.6 1912.1,1190.2 1914.1,1190.6 1916.1,1191.2 1918.1,1191.6 1920.1,1192.0 1922.1,1193.3 1924.1,1193.6 1926.1,1193.3 1928.1,1194.9 1930.1,1196.3 1932.1,1197.0 1934.1,1198.4 1936.1,1198.8 1938.1,1197.8 1940.1,1197.7 1942.1,1198.4 1944.1,1199.3 1946.1,1200.6 1948.1,1201.6 1950.1,1201.9 1952.1,1201.9 1954.1,1201.9 1956.1,1201.9 1958.1,1203.1 1960.1,1205.1 1962.1,1205.5 1964.1,1204.9 1966.1,1204.1 1968.1,1203.8 1970.1,1204.7 1972.1,1205.7 1974.1,1206.7 1976.1,1207.5 1978.1,1208.0 1980.1,1208.7 1982.1,1209.5 1984.1,1209.7 1986.1,1209.9 1988.1,1210.5 1990.1,1210.8 1992.1,1210.8 1994.1,1211.0 1996.1,1211.4 1998.1,1212.2 2000.1,1212.4 2002.1,1212.1 2004.1,1212.3 2006.1,1213.4 2008.1,1214.2 2010.1,1214.3 2012.1,1214.8 2014.1,1215.2 2016.1,1215.5 2018.1,1215.7 2020.1,1214.7 2022.1,1213.9 2024.1,1214.4 2026.1,1215.2 2028.1,1215.9 2030.1,1216.8 2032.1,1217.4 2034.1,1217.4 2036.1,1217.8 2038.1,1218.6 2040.1,1219.0 2042.1,1219.1 2044.1,1218.8 2046.1,1218.7 2048.1,1219.6 2050.1,1220.5 2052.1,1221.0 2054.1,1220.9 2056.1,1221.3 2058.1,1222.0 2060.1,1220.9 2062.1,1220.2 2064.1,1221.2 2066.1,1222.3 2068.1,1223.0 2070.1,1223.0 2072.1,1223.4 2074.1,1224.1 2076.1,1223.9 2078.1,1223.3 2080.1,1223.5 2082.1,1224.1 2084.1,1224.7 2086.1,1224.4 2088.1,1224.4 2090.1,1225.3 2092.1,1225.5 2094.1,1225.7 2096.1,1226.0 2098.1,1225.6 2100.1,1225.8 2102.1,1226.6 2104.1,1226.6 2106.1,1226.3 2108.1,1226.2 2110.0,1226.8 2112.0,1227.6 2114.0,1229.1 2116.0,1229.6 2118.0,1228.1 2120.0,1228.0 2122.0,1229.5 2124.0,1229.9 2126.0,1229.9 2128.0,1230.4 2130.0,1231.1 2132.0,1231.4 2134.0,1232.5 2136.0,1234.1 2138.0,1233.8 2140.0,1232.1 2142.0,1230.6 2144.0,1230.8 2146.0,1232.4 2148.0,1232.9 2150.0,1232.1 2152.0,1231.5 2154.0,1231.2 2156.0,1230.6 2158.0,1229.5 2160.0,1229.2 2162.0,1230.6 2164.0,1232.2 2166.0,1232.5 2168.0,1231.5 2170.0,1231.5 2172.0,1232.5 2174.0,1232.4 2176.0,1232.0 2178.0,1232.5 2180.0,1233.7 2182.0,1234.8 2184.0,1234.3 2186.0,1233.5 2188.0,1233.1 2190.0,1233.4 2192.0,1234.0 2194.0,1233.6 2196.0,1232.8 2198.0,1232.1 2200.0,1231.1 2202.0,1230.7 2204.0,1232.5 2206.0,1234.8 2208.0,1235.2 2210.0,1235.7 2212.0,1236.4 2217.0,1236.4"/>
</g>
<!-- tick labels -->
<g class="tl" text-anchor="middle">
<text x="156.4" y="1644.6">300</text>
<text x="669.6" y="1644.6">400</text>
<text x="1185.7" y="1644.6">500</text>
<text x="1700.1" y="1644.6">600</text>
<text x="2215.7" y="1644.6">700</text>
</g>
<!-- axis titles -->
<text class="big" x="814.6" y="1736" text-anchor="start" letter-spacing="4.05">Wavelength (nm)</text>
<text class="big" transform="translate(121,803.5) rotate(-90)" text-anchor="middle" letter-spacing="0.1">PL intensity (a.u.)</text>
</svg>
</body>
</html>
